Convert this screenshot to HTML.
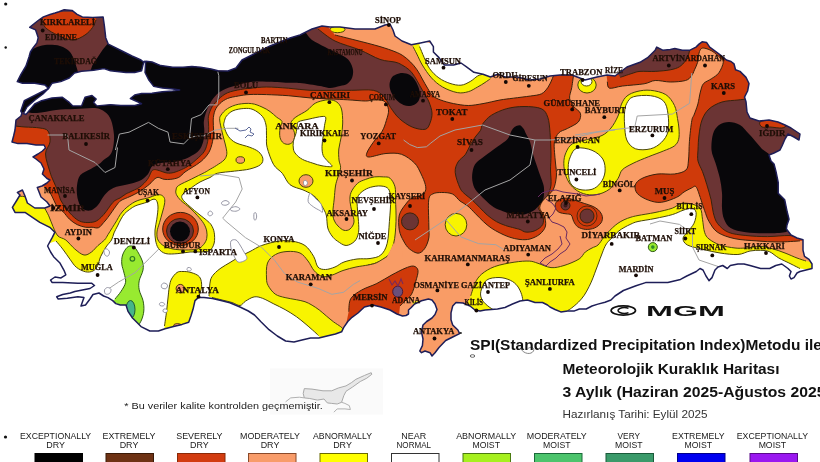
<!DOCTYPE html><html><head><meta charset="utf-8"><title>SPI Kuraklık Haritası</title>
<style>html,body{margin:0;padding:0;background:#fff;width:820px;height:462px;overflow:hidden}svg{display:block}.l{font-family:"Liberation Serif",serif;font-weight:bold;font-size:9px;fill:#1e0e06;stroke:#1e0e06;stroke-width:0.25px}.s{font-family:"Liberation Sans",Arial,sans-serif}</style></head><body>
<svg width="820" height="462" viewBox="0 0 820 462">
<defs><clipPath id="land"><path d="M29.7,27.3 L35,23 L39.5,19.5 L43.4,16.9 L50,14.5 L55,13 L59,11.7 L64.2,9.7 L72,10.4 L77.1,14.3 L82.3,16.9 L92.7,17.5 L103.1,16.9 L104.4,26 L105.7,37.7 L108.3,44.2 L120,50 L132,56 L141,60 L143.5,62 L146,61.3 L152,62 L160.7,65.6 L172.8,67.3 L183,67.3 L191.9,66.5 L200.5,67.3 L211,69 L217.9,70.8 L228,71 L236,68 L242,60 L250,56 L260,51 L270,46 L280,42 L290,38 L300,35 L306,32 L312,29 L322,26 L330,27 L340,27 L355,29 L365,29 L375,29 L385,25 L390,24 L393,30 L395,36 L402,41 L411.3,44.7 L420.5,42.9 L429.7,41 L433.4,46.6 L433.4,52 L439,57.6 L444.4,65 L453.6,65 L461,63 L466.5,66.8 L473.9,72.3 L483,74.2 L490.4,77 L497.8,74.2 L505,77 L517,77 L530,80 L540,79 L550,76 L560,75 L572,75 L585,80 L597,77 L607,75 L615,76 L627,67 L640,62.3 L647.6,57.7 L655.2,50.2 L656.7,47.1 L662.7,50.2 L670.3,49.4 L674.8,48.6 L682.4,50.2 L690,50.2 L696,47.1 L699,44.1 L702.1,41.8 L706.7,42.6 L709.7,47.1 L715.8,51.7 L721.8,56.2 L726.4,60 L731,61.5 L734,63.8 L735.5,69.8 L740,71.4 L746,77.4 L749,83.5 L747.6,91 L744.5,97.1 L746,101.7 L747,112 L750,118 L759,121 L769,120 L778,122 L785,125 L791,128 L800,134 L799,140 L794,137 L788,134 L785,139 L782,146 L780,150 L774,153 L769,155 L771,161 L774,164 L776,171.6 L778.2,182.5 L778.2,193.3 L784.7,199.8 L786.9,210.6 L789,219.3 L787,225 L786.4,229 L791,235 L797,238 L803,239.7 L803,250.3 L804.5,256.4 L809,259.4 L812,264 L812,268.5 L806,270 L800,271.5 L797,273 L794,277.6 L791,279 L789.4,276 L791,271.5 L788,268.5 L781.8,264 L775.8,265.5 L769.7,268.5 L760.6,268.5 L750,265.5 L744,264 L737.9,264 L730.3,265.5 L727.3,268.5 L722.7,265.5 L718,267 L715,270 L712,277.6 L709,280.6 L706,276 L703,270 L700,268.5 L696.3,271.5 L686.8,276 L680.5,279.4 L667.8,282.6 L655,282.6 L645.6,282.6 L636,285.7 L623.4,290.5 L615,296 L611,300 L605,302.2 L597.9,304.1 L592,306 L586.2,309 L579.4,309 L574.5,310.9 L567.7,310.9 L560.8,311.9 L555,309.5 L550,307 L547.5,305 L542.5,302.5 L535,302.5 L527.5,300 L520,301 L512.5,304 L505,307.5 L497.5,309 L485,310 L480,311 L475,310 L470,306 L463,303 L456,302.5 L452.7,306 L451,312.9 L451,319.8 L452.7,325 L457.9,330 L459.6,333.6 L452.7,337 L445.7,340.5 L439,347.5 L435,352.7 L432,356 L430,352.7 L425,351 L421.5,352.7 L419.8,351 L422.4,345.7 L423,339 L421.5,332 L423,325 L426.7,321.5 L432,318 L435,314.6 L437,309.4 L435,304 L432,300 L428.4,299 L421.5,300.8 L414.6,304 L411,307.7 L408.5,310 L408.5,314 L406,315.5 L402.5,316 L397,314 L390,310 L381,307 L372.7,305 L364.4,307 L358,313 L352,317.3 L347.8,321.5 L343.6,327.7 L341.6,331.8 L335.4,334 L327,336 L318.8,338 L310.5,338 L302,340 L294,342 L285.6,341 L277.3,336 L269,329.7 L260.7,321.5 L254.5,315 L248.3,311 L240,307 L229.9,302.8 L221,300.6 L212.5,298.4 L204,297.4 L198.5,297.4 L195,300.6 L193,309.3 L191,315.8 L188.7,322.3 L182,324.4 L173.6,326.6 L165,328.7 L158.4,331 L149.8,331 L141,326.6 L136.8,322.3 L132.5,318 L128,311.4 L126,305 L120.3,305 L115.8,303.6 L112.7,300.6 L108,297.6 L103.6,296 L99,293 L93,294.5 L90,299 L85.5,305 L81,306 L82.4,302 L84,297.6 L77.9,296.8 L67.3,298.3 L58.2,299 L56.7,296.8 L62.7,294.5 L70.3,293 L74.8,291.5 L82.4,290 L90,288.5 L94.5,285.5 L91.5,283.2 L77.9,283.2 L62.7,282.4 L52,282.4 L50.6,280 L55,277 L61,277.9 L65.8,274.8 L64,270.3 L59.7,262.7 L53.6,256.7 L50.6,252 L47.6,246 L52.3,237.3 L54.8,232.3 L49.8,227.3 L39.8,222.3 L32.4,217.4 L25,212.4 L15,212.4 L12.4,207.4 L17,200 L20,195 L17.4,192.5 L22.4,190 L25,196 L27.4,203 L34.8,208 L44.8,208 L50,206 L47,202 L41,197 L37.3,187.5 L42,186 L47,183 L50,180 L47,178.5 L42.4,174 L44,169 L41,163 L36,159 L33,157 L38,154 L42.4,151 L45.5,148 L44,145 L36,145 L27,143.6 L18,143.6 L12,142 L13.6,136 L15,130 L16,120 L21,116 L22,113 L20.8,111 L22.5,105.9 L24.3,100.7 L31.2,97.2 L41.6,92 L48.5,88.5 L45,85 L34.7,83.3 L22.5,83.3 L17.3,81.6 L20.8,74.7 L26,66 L29,57 L30.4,52 L33,48 L36.9,42.9 L38.2,37.7 L36.9,33.8 L35.6,29.9 Z"/></clipPath></defs>
<rect width="820" height="462" fill="#fff"/>
<g clip-path="url(#land)">
<rect x="0" y="0" width="820" height="360" fill="#f99c66"/>
<path d="M0,360 L0,198 L12,197 L18,196.5 C19,196.5 22.3,196.1 24,196.5 C25.7,196.9 27.3,198.6 28,199 L30,205 L36,206 L44,207 C44.8,208.5 47.2,212.5 48.7,215.8 C50.2,219.1 51.5,223.2 53,226.6 C54.5,230 55.9,233.8 58,236 C60.1,238.2 63,237.8 65.8,240 C68.6,242.2 71.8,246.5 74.8,249 C77.8,251.5 81.2,254.5 84,255 C86.8,255.5 89.2,253.6 91.5,252 C93.8,250.4 95.8,247.5 98,245.5 C100.2,243.5 102.8,241.8 104.5,240 C106.2,238.2 106.7,236.7 108,234.6 C109.3,232.5 110.9,230 112.3,227.7 C113.7,225.4 115.3,223 116.6,220.8 C117.9,218.6 118.8,216.6 120.1,214.7 C121.4,212.8 122.8,211.1 124.4,209.5 C126,207.9 127.8,206.5 129.6,205.2 C131.4,203.9 133.1,202.6 135,201.7 C136.9,200.8 138.8,200.1 141,199.5 C143.2,198.9 145.3,198.8 147.9,198 C150.5,197.2 154.2,195.5 156.5,195 C158.8,194.5 160.2,194.6 161.5,195.2 C162.8,195.8 164,197 164.5,198.5 C165,200 164.8,201.8 164.5,204 C164.2,206.2 163.3,208.9 162.5,212 C161.7,215.1 160.4,219.4 159.5,222.7 C158.6,226 157.2,229.1 157,232 C156.8,234.9 156.8,237.7 158,240 C159.2,242.3 161.5,244.5 164,246 C166.5,247.5 169.4,248.3 173,249 C176.6,249.7 181.4,250 185.5,250 C189.6,250 194.6,249.9 197.6,249 C200.6,248.1 202.1,246.2 203.6,244.5 C205.1,242.8 206.2,240.8 206.7,238.5 C207.2,236.2 207.2,233.5 206.7,231 C206.2,228.5 205.1,225.8 203.6,223.3 C202.1,220.8 199.9,218.4 197.6,215.8 C195.3,213.2 192.8,210.5 190,208 C187.2,205.5 183.3,202.8 181,200.6 C178.7,198.3 177.2,196.3 176.4,194.5 C175.6,192.7 175.6,191.5 176,190 C176.4,188.5 176,187.3 178.6,185.5 C181.2,183.7 187.3,181.2 191.6,179 C195.9,176.8 201.7,174 204.6,172.5 C207.5,171 206.8,171.2 208.8,170 C210.8,168.8 213.9,167.2 216.4,165.5 C218.9,163.8 222.3,161.9 224,160.1 C225.7,158.3 226.3,156.7 226.7,154.7 C227.1,152.7 226.6,150.7 226.2,148.2 C225.8,145.7 224.7,142.4 224,139.5 C223.3,136.6 222.5,134.1 221.8,130.8 C221.1,127.6 219.8,122.6 219.7,120 C219.6,117.4 219.7,117 221,115.1 C222.3,113.2 224.6,110.4 227.5,108.6 C230.4,106.8 234.3,105.1 238.3,104.3 C242.3,103.5 247.6,103.1 251.5,103.6 C255.4,104 258.9,105.7 262,107 C265.1,108.3 267.6,109.8 270,111.5 C272.4,113.2 274.6,115.4 276.6,117.1 C278.6,118.8 281.4,119.6 282,121.5 C282.6,123.4 280.3,125.8 280,128.4 C279.7,131.1 279.4,135 280,137.4 C280.6,139.8 281.9,141.9 283.4,143 C284.9,144.1 287.3,144.6 289,144.2 C290.7,143.8 292.6,142.5 293.5,140.8 C294.4,139.1 294.9,136.2 294.7,134 C294.5,131.8 293,129.2 292.4,127.3 C291.8,125.4 290.4,124.2 291,122.5 C291.6,120.8 293.1,119.1 295.8,117.1 C298.5,115.1 304,112.6 307,110.4 C310,108.2 311.7,105.5 314,104 C316.3,102.5 318.2,101.8 320.8,101.1 C323.4,100.4 327.1,99.6 329.8,99.8 C332.5,100 334.9,100.6 336.9,102.1 C338.8,103.6 340.5,105.5 341.5,109 C342.5,112.5 342.7,118.5 342.7,123 C342.7,127.5 342,131.7 341.4,136 C340.8,140.3 339.2,145 338.8,149 C338.4,153 338.7,156.9 339,160 C339.3,163.1 340.8,165 340.6,167.8 C340.4,170.6 338.9,173.9 338,176.9 C337.1,179.9 336.1,182.3 335.5,186 C334.9,189.7 334.6,194.7 334.2,199 C333.8,203.3 332.9,208.5 332.9,212 C332.9,215.5 333.1,217.7 334,220 C334.9,222.3 336.3,224.3 338,226 C339.7,227.7 342,229.8 344,230.3 C346,230.8 348.3,230.4 350,229 C351.7,227.6 353.7,224.8 354,222 C354.3,219.2 352.7,215.4 352,212 C351.3,208.6 350.2,204.8 350,201.6 C349.8,198.3 349.8,195.5 351,192.5 C352.2,189.5 355.1,185.6 357.5,183.4 C359.9,181.2 362.5,180.6 365.3,179.5 C368.1,178.4 371.4,177.3 374.4,176.9 C377.4,176.5 380.9,176.7 383.5,176.9 C386.1,177.1 388.1,176.5 390,178.2 C391.9,179.8 394.1,183.2 395,186.8 C395.9,190.4 395.3,194 395.5,199.8 C395.7,205.6 396.3,214.3 396,221.6 C395.7,228.8 395.2,237.5 393.7,243.3 C392.2,249.1 390.1,253.1 387.2,256.3 C384.3,259.6 379.6,261.4 376.4,262.8 C373.2,264.2 369.4,264.6 368,265 L356,267 L348,290 L346,360 L0,360 Z" fill="#f8f400"/>
<path d="M18,196.5 C19,196.5 22.3,196.1 24,196.5 C25.7,196.9 27.3,198.6 28,199" fill="none" stroke="#4a4608" stroke-width="1.0"/>
<path d="M44,207 C44.8,208.5 47.2,212.5 48.7,215.8 C50.2,219.1 51.5,223.2 53,226.6 C54.5,230 55.9,233.8 58,236 C60.1,238.2 63,237.8 65.8,240 C68.6,242.2 71.8,246.5 74.8,249 C77.8,251.5 81.2,254.5 84,255 C86.8,255.5 89.2,253.6 91.5,252 C93.8,250.4 95.8,247.5 98,245.5 C100.2,243.5 102.8,241.8 104.5,240 C106.2,238.2 106.7,236.7 108,234.6 C109.3,232.5 110.9,230 112.3,227.7 C113.7,225.4 115.3,223 116.6,220.8 C117.9,218.6 118.8,216.6 120.1,214.7 C121.4,212.8 122.8,211.1 124.4,209.5 C126,207.9 127.8,206.5 129.6,205.2 C131.4,203.9 133.1,202.6 135,201.7 C136.9,200.8 138.8,200.1 141,199.5 C143.2,198.9 145.3,198.8 147.9,198 C150.5,197.2 154.2,195.5 156.5,195 C158.8,194.5 160.2,194.6 161.5,195.2 C162.8,195.8 164,197 164.5,198.5 C165,200 164.8,201.8 164.5,204 C164.2,206.2 163.3,208.9 162.5,212 C161.7,215.1 160.4,219.4 159.5,222.7 C158.6,226 157.2,229.1 157,232 C156.8,234.9 156.8,237.7 158,240 C159.2,242.3 161.5,244.5 164,246 C166.5,247.5 169.4,248.3 173,249 C176.6,249.7 181.4,250 185.5,250 C189.6,250 194.6,249.9 197.6,249 C200.6,248.1 202.1,246.2 203.6,244.5 C205.1,242.8 206.2,240.8 206.7,238.5 C207.2,236.2 207.2,233.5 206.7,231 C206.2,228.5 205.1,225.8 203.6,223.3 C202.1,220.8 199.9,218.4 197.6,215.8 C195.3,213.2 192.8,210.5 190,208 C187.2,205.5 183.3,202.8 181,200.6 C178.7,198.3 177.2,196.3 176.4,194.5 C175.6,192.7 175.6,191.5 176,190 C176.4,188.5 176,187.3 178.6,185.5 C181.2,183.7 187.3,181.2 191.6,179 C195.9,176.8 201.7,174 204.6,172.5 C207.5,171 206.8,171.2 208.8,170 C210.8,168.8 213.9,167.2 216.4,165.5 C218.9,163.8 222.3,161.9 224,160.1 C225.7,158.3 226.3,156.7 226.7,154.7 C227.1,152.7 226.6,150.7 226.2,148.2 C225.8,145.7 224.7,142.4 224,139.5 C223.3,136.6 222.5,134.1 221.8,130.8 C221.1,127.6 219.8,122.6 219.7,120 C219.6,117.4 219.7,117 221,115.1 C222.3,113.2 224.6,110.4 227.5,108.6 C230.4,106.8 234.3,105.1 238.3,104.3 C242.3,103.5 247.6,103.1 251.5,103.6 C255.4,104 258.9,105.7 262,107 C265.1,108.3 267.6,109.8 270,111.5 C272.4,113.2 274.6,115.4 276.6,117.1 C278.6,118.8 281.4,119.6 282,121.5 C282.6,123.4 280.3,125.8 280,128.4 C279.7,131.1 279.4,135 280,137.4 C280.6,139.8 281.9,141.9 283.4,143 C284.9,144.1 287.3,144.6 289,144.2 C290.7,143.8 292.6,142.5 293.5,140.8 C294.4,139.1 294.9,136.2 294.7,134 C294.5,131.8 293,129.2 292.4,127.3 C291.8,125.4 290.4,124.2 291,122.5 C291.6,120.8 293.1,119.1 295.8,117.1 C298.5,115.1 304,112.6 307,110.4 C310,108.2 311.7,105.5 314,104 C316.3,102.5 318.2,101.8 320.8,101.1 C323.4,100.4 327.1,99.6 329.8,99.8 C332.5,100 334.9,100.6 336.9,102.1 C338.8,103.6 340.5,105.5 341.5,109 C342.5,112.5 342.7,118.5 342.7,123 C342.7,127.5 342,131.7 341.4,136 C340.8,140.3 339.2,145 338.8,149 C338.4,153 338.7,156.9 339,160 C339.3,163.1 340.8,165 340.6,167.8 C340.4,170.6 338.9,173.9 338,176.9 C337.1,179.9 336.1,182.3 335.5,186 C334.9,189.7 334.6,194.7 334.2,199 C333.8,203.3 332.9,208.5 332.9,212 C332.9,215.5 333.1,217.7 334,220 C334.9,222.3 336.3,224.3 338,226 C339.7,227.7 342,229.8 344,230.3 C346,230.8 348.3,230.4 350,229 C351.7,227.6 353.7,224.8 354,222 C354.3,219.2 352.7,215.4 352,212 C351.3,208.6 350.2,204.8 350,201.6 C349.8,198.3 349.8,195.5 351,192.5 C352.2,189.5 355.1,185.6 357.5,183.4 C359.9,181.2 362.5,180.6 365.3,179.5 C368.1,178.4 371.4,177.3 374.4,176.9 C377.4,176.5 380.9,176.7 383.5,176.9 C386.1,177.1 388.1,176.5 390,178.2 C391.9,179.8 394.1,183.2 395,186.8 C395.9,190.4 395.3,194 395.5,199.8 C395.7,205.6 396.3,214.3 396,221.6 C395.7,228.8 395.2,237.5 393.7,243.3 C392.2,249.1 390.1,253.1 387.2,256.3 C384.3,259.6 379.6,261.4 376.4,262.8 C373.2,264.2 369.4,264.6 368,265" fill="none" stroke="#4a4608" stroke-width="1.0"/>
<path d="M25,255 L50,243 L56,241 C57.1,242.3 60.3,245.9 62.7,249 C65.1,252.1 68,256.6 70.3,259.7 C72.6,262.8 73.9,265.3 76.4,267.3 C78.9,269.3 82.7,271.2 85.5,271.8 C88.3,272.4 91,272 93,271 C95,270 96.3,268.2 97.6,265.8 C98.9,263.4 99.2,259.8 100.6,256.7 C102,253.6 104.2,249.8 106,247 C107.8,244.2 110.2,242.3 111.5,240 C112.8,237.7 113,235.2 114,232.9 C115,230.6 116.3,228.3 117.5,226 C118.7,223.7 119.8,221 121,219 C122.2,217 123,215.5 124.4,213.9 C125.8,212.3 127.8,210.8 129.6,209.5 C131.4,208.2 133.1,206.9 135,206 C136.9,205.1 138.8,204.7 141,204 C143.2,203.3 145.9,202.7 147.9,201.9 C149.9,201.1 151.6,199.5 153,199.3 C154.4,199.1 155.7,199.2 156.5,200.5 C157.3,201.8 157.9,203.9 158,207 C158.1,210.1 157.3,215.4 156.8,219.2 C156.3,223 155.2,226.5 155,230 C154.8,233.5 154.9,236.9 155.5,240 C156.1,243.1 156.8,246.2 158.5,248.5 C160.2,250.8 162.6,252.8 165.8,253.6 C169,254.4 173.9,253.9 177.9,253.6 C181.9,253.3 186.2,252.3 190,252 C193.8,251.7 197.3,252.2 200.6,252 C203.9,251.8 207.4,252.1 209.7,250.6 C212,249.1 213.4,246 214.2,243 C214.9,240 214.7,235.4 214.2,232.4 C213.7,229.4 212.4,226.8 211.2,224.8 C209.9,222.8 208.7,222.1 206.7,220.3 C204.7,218.5 201.8,216.5 199,214.2 C196.2,211.9 192.8,209.2 190,206.7 C187.2,204.2 183.6,201.1 182.4,199 C181.2,196.9 181.5,195.9 183,194 C184.5,192.1 188.8,189.6 191.6,187.6 C194.4,185.6 196.9,183.7 200,182 C203.1,180.3 207.1,178.9 210,177.5 C212.9,176.1 213.2,174.4 217.3,173.3 C221.4,172.2 229.2,171.8 234.6,171.1 C240,170.4 245.5,170.1 249.8,169 C254.1,167.9 258.4,166.4 260.6,164.6 C262.8,162.8 263.2,160.3 262.8,158.2 C262.4,156 260.7,153.5 258.5,151.7 C256.3,149.9 253.6,148.8 249.8,147.3 C246,145.8 239.5,144.6 235.9,142.8 C232.3,141 230.3,139 228.3,136.3 C226.3,133.6 224.7,128.9 224,126.5 C223.3,124 223.9,123.3 224.3,121.6 C224.7,119.9 225,118 226.4,116.2 C227.8,114.4 230,112.1 232.9,110.8 C235.8,109.5 240.5,108.7 243.8,108.5 C247.2,108.3 249.9,108.2 253,109.5 C256.1,110.8 260.1,113.7 262.3,116.3 C264.5,118.9 265.3,121.8 266,125 C266.7,128.2 266.3,132.1 266.5,135.8 C266.7,139.5 265.9,142.5 267.1,147.3 C268.3,152.1 271.1,160.3 273.6,164.6 C276.1,168.9 279.6,170 282.3,173.3 C285,176.7 286.6,181.9 290,184.7 C293.4,187.5 299.5,188.4 303,189.9 C306.5,191.4 308.6,192.5 310.8,193.8 C313,195.1 314.5,196.2 316,197.7 C317.5,199.2 318.6,200.9 319.9,202.9 C321.2,204.9 322.7,207.2 323.8,209.4 C324.9,211.6 325.7,212.7 326.4,215.8 C327.1,218.9 326.9,224.6 327.8,228 C328.7,231.4 330.4,233.8 332,236 C333.6,238.2 335,239.5 337.4,241.1 C339.8,242.7 343.2,245.5 346.1,245.5 C349,245.5 352.7,243.3 354.8,241.1 C356.9,238.9 357.9,235.8 358.5,232.5 C359.1,229.2 358.7,225.3 358.5,221.6 C358.3,217.8 357.7,214 357.5,210 C357.3,206 356.6,200.8 357.5,197.7 C358.4,194.6 360.5,192.9 362.7,191.2 C364.9,189.5 367.4,188.2 370.5,187.3 C373.6,186.4 378,185.7 381,186 C384,186.3 386.9,186.7 388.5,189 C390.1,191.3 390.5,194.4 390.6,199.8 C390.8,205.2 390,214.3 389.4,221.6 C388.8,228.8 388.6,237.7 387.2,243.3 C385.8,248.9 383.7,252.5 380.8,255 C377.9,257.5 374,257.8 370,258.5 C366,259.2 361.3,258.4 357,259 C352.7,259.6 347.7,260.7 344,262 C340.3,263.3 338.1,265.8 335,267 C331.9,268.2 328.3,269.5 325.5,269.5 C322.7,269.5 320,269.3 318,267.1 C316,264.9 315.8,259.9 313.6,256.3 C311.4,252.7 308.6,248 305,245.5 C301.4,243 296.3,241.8 292,241.1 C287.7,240.4 284.1,240.4 279,241.1 C273.9,241.8 266.5,243.8 261.7,245.5 C256.9,247.2 253.6,249.7 250,251.5 C246.4,253.3 243.3,254.7 240,256.5 C236.7,258.3 233.2,260.6 230,262.5 C226.8,264.4 223.7,266.1 221,268 C218.3,269.9 215.8,272 214,274 C212.2,276 211.2,277.7 210.5,280 C209.8,282.3 209.8,285.3 209.5,288 C209.2,290.7 209.1,294.7 209,296 L208,310 L204,350 L25,350 L25,255 Z" fill="#ffffff"/>
<path d="M56,241 C57.1,242.3 60.3,245.9 62.7,249 C65.1,252.1 68,256.6 70.3,259.7 C72.6,262.8 73.9,265.3 76.4,267.3 C78.9,269.3 82.7,271.2 85.5,271.8 C88.3,272.4 91,272 93,271 C95,270 96.3,268.2 97.6,265.8 C98.9,263.4 99.2,259.8 100.6,256.7 C102,253.6 104.2,249.8 106,247 C107.8,244.2 110.2,242.3 111.5,240 C112.8,237.7 113,235.2 114,232.9 C115,230.6 116.3,228.3 117.5,226 C118.7,223.7 119.8,221 121,219 C122.2,217 123,215.5 124.4,213.9 C125.8,212.3 127.8,210.8 129.6,209.5 C131.4,208.2 133.1,206.9 135,206 C136.9,205.1 138.8,204.7 141,204 C143.2,203.3 145.9,202.7 147.9,201.9 C149.9,201.1 151.6,199.5 153,199.3 C154.4,199.1 155.7,199.2 156.5,200.5 C157.3,201.8 157.9,203.9 158,207 C158.1,210.1 157.3,215.4 156.8,219.2 C156.3,223 155.2,226.5 155,230 C154.8,233.5 154.9,236.9 155.5,240 C156.1,243.1 156.8,246.2 158.5,248.5 C160.2,250.8 162.6,252.8 165.8,253.6 C169,254.4 173.9,253.9 177.9,253.6 C181.9,253.3 186.2,252.3 190,252 C193.8,251.7 197.3,252.2 200.6,252 C203.9,251.8 207.4,252.1 209.7,250.6 C212,249.1 213.4,246 214.2,243 C214.9,240 214.7,235.4 214.2,232.4 C213.7,229.4 212.4,226.8 211.2,224.8 C209.9,222.8 208.7,222.1 206.7,220.3 C204.7,218.5 201.8,216.5 199,214.2 C196.2,211.9 192.8,209.2 190,206.7 C187.2,204.2 183.6,201.1 182.4,199 C181.2,196.9 181.5,195.9 183,194 C184.5,192.1 188.8,189.6 191.6,187.6 C194.4,185.6 196.9,183.7 200,182 C203.1,180.3 207.1,178.9 210,177.5 C212.9,176.1 213.2,174.4 217.3,173.3 C221.4,172.2 229.2,171.8 234.6,171.1 C240,170.4 245.5,170.1 249.8,169 C254.1,167.9 258.4,166.4 260.6,164.6 C262.8,162.8 263.2,160.3 262.8,158.2 C262.4,156 260.7,153.5 258.5,151.7 C256.3,149.9 253.6,148.8 249.8,147.3 C246,145.8 239.5,144.6 235.9,142.8 C232.3,141 230.3,139 228.3,136.3 C226.3,133.6 224.7,128.9 224,126.5 C223.3,124 223.9,123.3 224.3,121.6 C224.7,119.9 225,118 226.4,116.2 C227.8,114.4 230,112.1 232.9,110.8 C235.8,109.5 240.5,108.7 243.8,108.5 C247.2,108.3 249.9,108.2 253,109.5 C256.1,110.8 260.1,113.7 262.3,116.3 C264.5,118.9 265.3,121.8 266,125 C266.7,128.2 266.3,132.1 266.5,135.8 C266.7,139.5 265.9,142.5 267.1,147.3 C268.3,152.1 271.1,160.3 273.6,164.6 C276.1,168.9 279.6,170 282.3,173.3 C285,176.7 286.6,181.9 290,184.7 C293.4,187.5 299.5,188.4 303,189.9 C306.5,191.4 308.6,192.5 310.8,193.8 C313,195.1 314.5,196.2 316,197.7 C317.5,199.2 318.6,200.9 319.9,202.9 C321.2,204.9 322.7,207.2 323.8,209.4 C324.9,211.6 325.7,212.7 326.4,215.8 C327.1,218.9 326.9,224.6 327.8,228 C328.7,231.4 330.4,233.8 332,236 C333.6,238.2 335,239.5 337.4,241.1 C339.8,242.7 343.2,245.5 346.1,245.5 C349,245.5 352.7,243.3 354.8,241.1 C356.9,238.9 357.9,235.8 358.5,232.5 C359.1,229.2 358.7,225.3 358.5,221.6 C358.3,217.8 357.7,214 357.5,210 C357.3,206 356.6,200.8 357.5,197.7 C358.4,194.6 360.5,192.9 362.7,191.2 C364.9,189.5 367.4,188.2 370.5,187.3 C373.6,186.4 378,185.7 381,186 C384,186.3 386.9,186.7 388.5,189 C390.1,191.3 390.5,194.4 390.6,199.8 C390.8,205.2 390,214.3 389.4,221.6 C388.8,228.8 388.6,237.7 387.2,243.3 C385.8,248.9 383.7,252.5 380.8,255 C377.9,257.5 374,257.8 370,258.5 C366,259.2 361.3,258.4 357,259 C352.7,259.6 347.7,260.7 344,262 C340.3,263.3 338.1,265.8 335,267 C331.9,268.2 328.3,269.5 325.5,269.5 C322.7,269.5 320,269.3 318,267.1 C316,264.9 315.8,259.9 313.6,256.3 C311.4,252.7 308.6,248 305,245.5 C301.4,243 296.3,241.8 292,241.1 C287.7,240.4 284.1,240.4 279,241.1 C273.9,241.8 266.5,243.8 261.7,245.5 C256.9,247.2 253.6,249.7 250,251.5 C246.4,253.3 243.3,254.7 240,256.5 C236.7,258.3 233.2,260.6 230,262.5 C226.8,264.4 223.7,266.1 221,268 C218.3,269.9 215.8,272 214,274 C212.2,276 211.2,277.7 210.5,280 C209.8,282.3 209.8,285.3 209.5,288 C209.2,290.7 209.1,294.7 209,296" fill="none" stroke="#4a4608" stroke-width="1.0"/>
<path d="M267.5,263 C269,259.1 272.2,256.4 275.5,254.5 C278.8,252.6 282.9,251.8 287,251.5 C291.1,251.2 296.5,251.4 300,253 C303.5,254.6 305.7,258.1 308,261 C310.3,263.9 311.7,267.9 314,270.5 C316.3,273.1 319.1,275.7 322,276.5 C324.9,277.3 328,276.3 331.5,275.3 C335,274.3 338.9,271.9 343,270.5 C347.1,269.1 351.8,267.9 356,267 C360.2,266.1 364.6,265.7 368,265 C371.4,264.3 373.2,264.2 376.4,262.8 C379.6,261.4 385.4,257.4 387.2,256.3 L393.7,243.3 L402,250 L404,280 L380,300 L355,318 L344.3,330.2 C343.7,329.6 342.5,328.1 340.7,326.7 C338.9,325.3 336,323.7 333.6,321.9 C331.2,320.1 328.8,318 326.4,316 C324,314 321.7,311.8 319.3,310 C316.9,308.2 314.5,306.6 312.1,305.2 C309.7,303.8 307.6,302.6 305,301.7 C302.4,300.8 299.6,300.4 296.3,299.7 C293,299 288.6,298.5 285.1,297.6 C281.6,296.7 278,296.1 275.2,294.1 C272.4,292.1 269.6,288.3 268.2,285.6 C266.8,282.9 266.6,281.8 266.5,278 C266.4,274.2 266,266.9 267.5,263 Z" fill="#f99c66"/>
<path d="M344.3,330.2 C343.7,329.6 342.5,328.1 340.7,326.7 C338.9,325.3 336,323.7 333.6,321.9 C331.2,320.1 328.8,318 326.4,316 C324,314 321.7,311.8 319.3,310 C316.9,308.2 314.5,306.6 312.1,305.2 C309.7,303.8 307.6,302.6 305,301.7 C302.4,300.8 299.6,300.4 296.3,299.7 C293,299 288.6,298.5 285.1,297.6 C281.6,296.7 278,296.1 275.2,294.1 C272.4,292.1 269.6,288.3 268.2,285.6 C266.8,282.9 266.6,281.8 266.5,278 C266.4,274.2 266,266.9 267.5,263 C269,259.1 272.2,256.4 275.5,254.5 C278.8,252.6 282.9,251.8 287,251.5 C291.1,251.2 296.5,251.4 300,253 C303.5,254.6 305.7,258.1 308,261 C310.3,263.9 311.7,267.9 314,270.5 C316.3,273.1 319.1,275.7 322,276.5 C324.9,277.3 328,276.3 331.5,275.3 C335,274.3 338.9,271.9 343,270.5 C347.1,269.1 351.8,267.9 356,267 C360.2,266.1 364.6,265.7 368,265 C371.4,264.3 373.2,264.2 376.4,262.8 C379.6,261.4 385.4,257.4 387.2,256.3" fill="none" stroke="#4a4608" stroke-width="1.0"/>
<path d="M206,296 L212,297.5 C213.7,297.9 218.7,299.2 222,300 C225.3,300.8 229,301.6 232,302.5 C235,303.4 237.7,305.7 240,305.5 C242.3,305.3 243.2,302.5 245.6,301.1 C247.9,299.7 251.3,297.4 254.1,296.9 C256.9,296.4 259.2,297.1 262.5,298.3 C265.8,299.5 270,302 273.8,303.9 C277.6,305.8 281.4,307.5 285.1,309.6 C288.9,311.7 293,314.3 296.3,316.6 C299.6,318.9 302.3,321.3 305,323.5 C307.7,325.7 310.2,328 312.5,330 C314.8,332 317.5,334.6 318.5,335.5 L322,340 L322,350 L206,350 L206,296 Z" fill="#ffffff"/>
<path d="M212,297.5 C213.7,297.9 218.7,299.2 222,300 C225.3,300.8 229,301.6 232,302.5 C235,303.4 237.7,305.7 240,305.5 C242.3,305.3 243.2,302.5 245.6,301.1 C247.9,299.7 251.3,297.4 254.1,296.9 C256.9,296.4 259.2,297.1 262.5,298.3 C265.8,299.5 270,302 273.8,303.9 C277.6,305.8 281.4,307.5 285.1,309.6 C288.9,311.7 293,314.3 296.3,316.6 C299.6,318.9 302.3,321.3 305,323.5 C307.7,325.7 310.2,328 312.5,330 C314.8,332 317.5,334.6 318.5,335.5" fill="none" stroke="#4a4608" stroke-width="1.0"/>
<path d="M297.3,125.6 C297.7,123.6 296.7,122.8 298.6,121.7 C300.6,120.6 305.1,120 309,119.1 C312.9,118.2 319.2,116.7 322,116.5 C324.8,116.3 325.4,116.3 325.8,117.8 C326.2,119.3 324.9,122.6 324.5,125.6 C324.1,128.6 323.6,132.5 323.2,136 C322.8,139.5 322,143.2 322,146.4 C322,149.7 322.1,152.9 323.2,155.5 C324.3,158.1 326.9,160.2 328.4,162 C329.9,163.8 333.1,165.9 332,166.5 C330.9,167.1 325.2,166.4 322,165.8 C318.8,165.2 316.1,164.3 312.9,163.2 C309.6,162.1 305.3,160.9 302.5,159.4 C299.7,157.9 297.5,155.9 296,154.2 C294.5,152.5 293.8,151.2 293.4,149 C293,146.8 293,143.8 293.4,141.2 C293.8,138.6 295.4,136 296,133.4 C296.6,130.8 296.9,127.5 297.3,125.6 Z" fill="#ffffff"/>
<path d="M297.3,125.6 C297.7,123.6 296.7,122.8 298.6,121.7 C300.6,120.6 305.1,120 309,119.1 C312.9,118.2 319.2,116.7 322,116.5 C324.8,116.3 325.4,116.3 325.8,117.8 C326.2,119.3 324.9,122.6 324.5,125.6 C324.1,128.6 323.6,132.5 323.2,136 C322.8,139.5 322,143.2 322,146.4 C322,149.7 322.1,152.9 323.2,155.5 C324.3,158.1 326.9,160.2 328.4,162 C329.9,163.8 333.1,165.9 332,166.5 C330.9,167.1 325.2,166.4 322,165.8 C318.8,165.2 316.1,164.3 312.9,163.2 C309.6,162.1 305.3,160.9 302.5,159.4 C299.7,157.9 297.5,155.9 296,154.2 C294.5,152.5 293.8,151.2 293.4,149 C293,146.8 293,143.8 293.4,141.2 C293.8,138.6 295.4,136 296,133.4 C296.6,130.8 296.9,127.5 297.3,125.6 Z" fill="none" stroke="#4a4608" stroke-width="1.0"/>
<ellipse cx="306" cy="181" rx="7" ry="6.3" fill="#f99c66" stroke="#4a4608" stroke-width="1.0"/>
<ellipse cx="240.3" cy="160" rx="4.3" ry="3.3" fill="#f99c66" stroke="#4a4608" stroke-width="1.0"/>
<path d="M177,272.5 C178.9,271.2 180.7,271.5 183,271.5 C185.3,271.5 188.2,271.6 191,272.5 C193.8,273.4 197.8,274.6 199.6,277 C201.4,279.4 201.8,283.5 201.6,286.8 C201.4,290.1 199.2,295.3 198.7,297 L195,305 L191,318 L188,340 L164,340 L164.5,326 C164.8,323.7 165.9,316.7 166.5,312 C167.1,307.3 167.5,302.2 168,298 C168.5,293.8 168.7,290.2 169.3,287 C169.9,283.8 170.2,281.4 171.5,279 C172.8,276.6 175.1,273.8 177,272.5 Z" fill="#f8f400"/>
<path d="M164.5,326 C164.8,323.7 165.9,316.7 166.5,312 C167.1,307.3 167.5,302.2 168,298 C168.5,293.8 168.7,290.2 169.3,287 C169.9,283.8 170.2,281.4 171.5,279 C172.8,276.6 175.1,273.8 177,272.5 C178.9,271.2 180.7,271.5 183,271.5 C185.3,271.5 188.2,271.6 191,272.5 C193.8,273.4 197.8,274.6 199.6,277 C201.4,279.4 201.8,283.5 201.6,286.8 C201.4,290.1 199.2,295.3 198.7,297" fill="none" stroke="#4a4608" stroke-width="1.0"/>
<ellipse cx="180.3" cy="288.6" rx="4.2" ry="4.2" fill="#f99c66" stroke="#3a220c" stroke-width="0.9"/>
<ellipse cx="177.5" cy="326" rx="4" ry="2.5" fill="#f99c66" stroke="#3a220c" stroke-width="0.8"/>
<path d="M131.7,246 C133.2,246.2 134.2,246.5 136,249 C137.8,251.5 141.1,257.5 142.3,261 C143.5,264.5 143.5,266.7 143,270 C142.5,273.3 139.8,277.5 139.2,280.8 C138.6,284.1 138.6,286.5 139.2,289.8 C139.8,293.1 142.2,297 143,300.5 C143.8,304 144.1,307.8 143.8,311 C143.6,314.2 142.5,317.5 141.5,320 C140.5,322.5 138.6,325 138,326 L134,340 L108,330 L112,302 L115,299 C116,297.7 119.2,294.2 121,291.4 C122.8,288.6 125.1,285.3 125.6,282.3 C126.1,279.3 124.7,276.2 124.1,273.2 C123.5,270.1 122,267 121.8,264 C121.5,261 121.7,257.8 122.6,255 C123.5,252.2 125.5,249 127,247.5 C128.5,246 130.2,245.8 131.7,246 Z" fill="#98ea30"/>
<path d="M115,299 C116,297.7 119.2,294.2 121,291.4 C122.8,288.6 125.1,285.3 125.6,282.3 C126.1,279.3 124.7,276.2 124.1,273.2 C123.5,270.1 122,267 121.8,264 C121.5,261 121.7,257.8 122.6,255 C123.5,252.2 125.5,249 127,247.5 C128.5,246 130.2,245.8 131.7,246 C133.2,246.2 134.2,246.5 136,249 C137.8,251.5 141.1,257.5 142.3,261 C143.5,264.5 143.5,266.7 143,270 C142.5,273.3 139.8,277.5 139.2,280.8 C138.6,284.1 138.6,286.5 139.2,289.8 C139.8,293.1 142.2,297 143,300.5 C143.8,304 144.1,307.8 143.8,311 C143.6,314.2 142.5,317.5 141.5,320 C140.5,322.5 138.6,325 138,326" fill="none" stroke="#2f5a12" stroke-width="1.0"/>
<ellipse cx="130.5" cy="309.5" rx="4.5" ry="9" fill="#46b58a" stroke="#1f5a32" stroke-width="1.0"/>
<ellipse cx="132.4" cy="258.8" rx="2.3" ry="2.3" fill="none" stroke="#2f7a22" stroke-width="1.2"/>
<path d="M413,40 L413,46.6 C413.6,47.8 415.2,50.9 416.8,54 C418.4,57.1 419.9,61 422.3,65 C424.8,69 428.1,74.2 431.5,77.9 C434.9,81.6 438.3,84.5 442.6,87 C446.9,89.5 453,91.8 457.3,92.6 C461.6,93.4 464.9,92.6 468.3,91.7 C471.7,90.8 474.8,88.5 477.6,87 C480.4,85.5 482.9,83.9 485,82.5 C487.1,81.1 489.5,79.4 490.4,78.8 L494,70 L413,40 Z" fill="#f8f400"/>
<path d="M413,46.6 C413.6,47.8 415.2,50.9 416.8,54 C418.4,57.1 419.9,61 422.3,65 C424.8,69 428.1,74.2 431.5,77.9 C434.9,81.6 438.3,84.5 442.6,87 C446.9,89.5 453,91.8 457.3,92.6 C461.6,93.4 464.9,92.6 468.3,91.7 C471.7,90.8 474.8,88.5 477.6,87 C480.4,85.5 482.9,83.9 485,82.5 C487.1,81.1 489.5,79.4 490.4,78.8" fill="none" stroke="#4a4608" stroke-width="1.0"/>
<path d="M419.6,40 L419.6,46.6 C420.4,48.4 422.5,53.9 424.2,57.6 C425.9,61.3 427.2,65.3 429.7,68.7 C432.1,72.1 435.5,75.5 438.9,77.9 C442.3,80.4 446.3,82.2 450,83.4 C453.7,84.6 457.6,85.5 461,85.2 C464.4,84.9 467.4,83 470.2,81.5 C473,80 475.5,77.2 477.6,76 C479.7,74.8 482.1,74.5 483,74.2 L485,60 L419.6,40 Z" fill="#ffffff"/>
<path d="M419.6,46.6 C420.4,48.4 422.5,53.9 424.2,57.6 C425.9,61.3 427.2,65.3 429.7,68.7 C432.1,72.1 435.5,75.5 438.9,77.9 C442.3,80.4 446.3,82.2 450,83.4 C453.7,84.6 457.6,85.5 461,85.2 C464.4,84.9 467.4,83 470.2,81.5 C473,80 475.5,77.2 477.6,76 C479.7,74.8 482.1,74.5 483,74.2" fill="none" stroke="#4a4608" stroke-width="1.0"/>
<path d="M566,152.5 C567.5,149.2 568.9,146 572.5,143.8 C576.1,141.6 582.7,140.9 587.6,139.5 C592.5,138.1 598.1,137.4 602,135.5 C605.9,133.6 608.3,131.2 611,128 C613.7,124.8 616.2,120 618,116 C619.8,112 620,107.3 621.5,104 C623,100.7 624.4,98.1 627,96 C629.6,93.9 633.1,92.5 637,91.5 C640.9,90.5 645.8,89.8 650.6,90.3 C655.4,90.8 661.8,92.1 665.8,94.6 C669.8,97.1 672.5,101.5 674.5,105.5 C676.5,109.5 676.8,114.6 677.5,118.5 C678.2,122.4 678.8,125.5 679,129 C679.2,132.5 679.4,136.7 678.6,139.5 C677.8,142.3 676.8,144.1 674.3,146 C671.8,147.9 667.7,149.2 663.4,151 C659.1,152.8 653.3,154.8 648.3,156.8 C643.2,158.9 637.4,161.1 633.1,163.3 C628.8,165.5 624.8,167.3 622.3,169.8 C619.8,172.3 620.2,175.2 618,178.5 C615.8,181.8 612.9,186.6 609.3,189.3 C605.7,192 600.6,194 596.3,194.7 C592,195.4 587.3,194.9 583.3,193.6 C579.3,192.3 575.4,189.9 572.5,187 C569.6,184.1 567.5,180.2 566,176.3 C564.5,172.4 563.8,167.3 563.8,163.3 C563.8,159.3 564.5,155.8 566,152.5 Z" fill="#f8f400"/>
<path d="M566,152.5 C567.5,149.2 568.9,146 572.5,143.8 C576.1,141.6 582.7,140.9 587.6,139.5 C592.5,138.1 598.1,137.4 602,135.5 C605.9,133.6 608.3,131.2 611,128 C613.7,124.8 616.2,120 618,116 C619.8,112 620,107.3 621.5,104 C623,100.7 624.4,98.1 627,96 C629.6,93.9 633.1,92.5 637,91.5 C640.9,90.5 645.8,89.8 650.6,90.3 C655.4,90.8 661.8,92.1 665.8,94.6 C669.8,97.1 672.5,101.5 674.5,105.5 C676.5,109.5 676.8,114.6 677.5,118.5 C678.2,122.4 678.8,125.5 679,129 C679.2,132.5 679.4,136.7 678.6,139.5 C677.8,142.3 676.8,144.1 674.3,146 C671.8,147.9 667.7,149.2 663.4,151 C659.1,152.8 653.3,154.8 648.3,156.8 C643.2,158.9 637.4,161.1 633.1,163.3 C628.8,165.5 624.8,167.3 622.3,169.8 C619.8,172.3 620.2,175.2 618,178.5 C615.8,181.8 612.9,186.6 609.3,189.3 C605.7,192 600.6,194 596.3,194.7 C592,195.4 587.3,194.9 583.3,193.6 C579.3,192.3 575.4,189.9 572.5,187 C569.6,184.1 567.5,180.2 566,176.3 C564.5,172.4 563.8,167.3 563.8,163.3 C563.8,159.3 564.5,155.8 566,152.5 Z" fill="none" stroke="#4a4608" stroke-width="1.0"/>
<path d="M626.8,103.3 C628.2,100.8 629.3,98.1 633.3,96.8 C637.3,95.5 645.5,95 650.6,95.7 C655.7,96.4 660.7,98 663.6,101.1 C666.5,104.1 667.3,108.9 668,114 C668.7,119.1 669.1,126.8 668,131.5 C666.9,136.2 664.4,139.4 661.5,142.3 C658.6,145.2 654.9,147.7 650.6,148.8 C646.3,149.9 639.5,150.3 635.5,148.8 C631.5,147.3 628.6,144 626.8,140 C625,136 625,129.7 624.6,125 C624.2,120.3 624.2,115.6 624.6,112 C625,108.4 625.3,105.8 626.8,103.3 Z" fill="#ffffff"/>
<path d="M626.8,103.3 C628.2,100.8 629.3,98.1 633.3,96.8 C637.3,95.5 645.5,95 650.6,95.7 C655.7,96.4 660.7,98 663.6,101.1 C666.5,104.1 667.3,108.9 668,114 C668.7,119.1 669.1,126.8 668,131.5 C666.9,136.2 664.4,139.4 661.5,142.3 C658.6,145.2 654.9,147.7 650.6,148.8 C646.3,149.9 639.5,150.3 635.5,148.8 C631.5,147.3 628.6,144 626.8,140 C625,136 625,129.7 624.6,125 C624.2,120.3 624.2,115.6 624.6,112 C625,108.4 625.3,105.8 626.8,103.3 Z" fill="none" stroke="#4a4608" stroke-width="1.0"/>
<path d="M576.8,148.2 C580.4,147.1 587.7,148.5 592,150.3 C596.3,152.1 600.6,155.4 602.8,159 C605,162.6 605.4,168 605,172 C604.6,176 602.8,179.9 600.6,182.8 C598.4,185.7 595.6,188.2 592,189.3 C588.4,190.4 582.6,190.4 579,189.3 C575.4,188.2 572.1,186.4 570.3,182.8 C568.5,179.2 568.2,171.9 568.2,167.6 C568.2,163.3 568.9,160 570.3,156.8 C571.7,153.6 573.2,149.3 576.8,148.2 Z" fill="#ffffff"/>
<path d="M576.8,148.2 C580.4,147.1 587.7,148.5 592,150.3 C596.3,152.1 600.6,155.4 602.8,159 C605,162.6 605.4,168 605,172 C604.6,176 602.8,179.9 600.6,182.8 C598.4,185.7 595.6,188.2 592,189.3 C588.4,190.4 582.6,190.4 579,189.3 C575.4,188.2 572.1,186.4 570.3,182.8 C568.5,179.2 568.2,171.9 568.2,167.6 C568.2,163.3 568.9,160 570.3,156.8 C571.7,153.6 573.2,149.3 576.8,148.2 Z" fill="none" stroke="#4a4608" stroke-width="1.0"/>
<path d="M466,306 L470.8,295.8 C471.5,293.6 473.4,286.4 475.2,282.8 C477,279.2 478.5,276.8 481.7,274.1 C484.9,271.4 489.2,268.6 494.6,266.6 C500,264.6 508.3,263.1 514.1,262.2 C519.9,261.3 525.3,260.9 529.3,261.1 C533.3,261.3 534.4,262.2 538,263.3 C541.6,264.4 546.7,267.2 551,267.6 C555.3,268 559.3,266.9 564,265.5 C568.7,264.1 575.6,261.2 579.1,259 C582.6,256.8 583.1,253.8 585.3,252 C587.4,250.2 589.9,249.2 592,248 C594.1,246.8 596.1,246.7 598,245 C599.9,243.3 601.6,240 603.2,238 C604.8,236 605.9,234.5 607.5,232.8 C609.1,231.1 611,229.2 612.7,227.6 C614.4,226 616,224.6 617.9,223.3 C619.8,222 621.8,220.8 624,219.8 C626.2,218.8 628.6,217.9 630.9,217.2 C633.2,216.5 634,216.3 638,215.5 C642,214.7 649.3,213.7 655,212.5 C660.7,211.3 668,209.7 672.3,208.2 C676.6,206.7 677.8,204.2 681,203.5 C684.2,202.8 688.4,203.2 691.6,204 C694.8,204.8 698.5,205.8 700.3,208.4 C702.1,211 701.8,215.3 702.5,219.3 C703.2,223.3 703.5,229 704.6,232.3 C705.7,235.6 706.4,236.9 709,239 C711.6,241.1 715.7,243.5 720,245 C724.3,246.5 730.7,247.5 735,248 C739.3,248.5 741.5,248.2 745.8,248 C750.1,247.8 756.1,246.4 760.6,246.5 C765.1,246.6 768.6,247.7 772.7,248.8 C776.8,249.9 781,251.5 785,253 C789,254.5 793.5,256.7 797,258 C800.5,259.3 804.5,260.5 806,261 L815,263 L830,263 L830,330 L466,330 L466,306 Z" fill="#f8f400"/>
<path d="M470.8,295.8 C471.5,293.6 473.4,286.4 475.2,282.8 C477,279.2 478.5,276.8 481.7,274.1 C484.9,271.4 489.2,268.6 494.6,266.6 C500,264.6 508.3,263.1 514.1,262.2 C519.9,261.3 525.3,260.9 529.3,261.1 C533.3,261.3 534.4,262.2 538,263.3 C541.6,264.4 546.7,267.2 551,267.6 C555.3,268 559.3,266.9 564,265.5 C568.7,264.1 575.6,261.2 579.1,259 C582.6,256.8 583.1,253.8 585.3,252 C587.4,250.2 589.9,249.2 592,248 C594.1,246.8 596.1,246.7 598,245 C599.9,243.3 601.6,240 603.2,238 C604.8,236 605.9,234.5 607.5,232.8 C609.1,231.1 611,229.2 612.7,227.6 C614.4,226 616,224.6 617.9,223.3 C619.8,222 621.8,220.8 624,219.8 C626.2,218.8 628.6,217.9 630.9,217.2 C633.2,216.5 634,216.3 638,215.5 C642,214.7 649.3,213.7 655,212.5 C660.7,211.3 668,209.7 672.3,208.2 C676.6,206.7 677.8,204.2 681,203.5 C684.2,202.8 688.4,203.2 691.6,204 C694.8,204.8 698.5,205.8 700.3,208.4 C702.1,211 701.8,215.3 702.5,219.3 C703.2,223.3 703.5,229 704.6,232.3 C705.7,235.6 706.4,236.9 709,239 C711.6,241.1 715.7,243.5 720,245 C724.3,246.5 730.7,247.5 735,248 C739.3,248.5 741.5,248.2 745.8,248 C750.1,247.8 756.1,246.4 760.6,246.5 C765.1,246.6 768.6,247.7 772.7,248.8 C776.8,249.9 781,251.5 785,253 C789,254.5 793.5,256.7 797,258 C800.5,259.3 804.5,260.5 806,261" fill="none" stroke="#4a4608" stroke-width="1.0"/>
<path d="M566,314 L567.7,310.5 C568.4,310.1 569.8,309.4 571.6,308 C573.4,306.6 576.3,304.3 578.4,302.2 C580.5,300.1 582.4,297.9 584.2,295.3 C586,292.7 587.6,289.5 589.1,286.6 C590.6,283.7 591.9,280.6 593,277.8 C594.1,275 594.9,272.6 595.9,270 C596.9,267.4 598,264.5 598.9,262 C599.8,259.5 600.5,257.6 601.5,255 C602.5,252.4 603.8,248.9 604.9,246.6 C606,244.3 606.9,243.1 608.4,241.4 C609.9,239.7 611.9,237.9 613.6,236.2 C615.3,234.5 617.1,232.4 618.8,231 C620.5,229.6 622,228.8 624,227.6 C626,226.4 628.6,225.1 630.9,224.1 C633.2,223.1 634,222.4 638,221.5 C642,220.6 649.3,219.7 655,218.5 C660.7,217.3 667.6,216 672.3,214.6 C677,213.2 679.8,211.4 683,210.3 C686.2,209.2 689.6,207.8 691.8,208.2 C694,208.6 695.7,210 696.1,212.5 C696.5,215 695.5,220.1 694,223.3 C692.5,226.6 689.2,229.5 687.4,232 C685.6,234.5 683,236.3 683,238.5 C683,240.7 684.1,243.2 687.4,245 C690.7,246.8 697.2,248 702.6,249.3 C708,250.6 714.1,252.1 720,253 C725.9,253.9 732.9,254.8 737.9,254.5 C742.9,254.2 746.2,251.7 750,251 C753.8,250.3 757.3,250.2 760.6,250.3 C763.9,250.4 766.7,250.5 769.7,251.8 C772.7,253.1 775.2,256 778.8,258 C782.3,260 787.5,262.2 791,264 C794.5,265.8 798.5,267.8 800,268.5 L812,270 L830,300 L566,330 L566,314 Z" fill="#ffffff"/>
<path d="M567.7,310.5 C568.4,310.1 569.8,309.4 571.6,308 C573.4,306.6 576.3,304.3 578.4,302.2 C580.5,300.1 582.4,297.9 584.2,295.3 C586,292.7 587.6,289.5 589.1,286.6 C590.6,283.7 591.9,280.6 593,277.8 C594.1,275 594.9,272.6 595.9,270 C596.9,267.4 598,264.5 598.9,262 C599.8,259.5 600.5,257.6 601.5,255 C602.5,252.4 603.8,248.9 604.9,246.6 C606,244.3 606.9,243.1 608.4,241.4 C609.9,239.7 611.9,237.9 613.6,236.2 C615.3,234.5 617.1,232.4 618.8,231 C620.5,229.6 622,228.8 624,227.6 C626,226.4 628.6,225.1 630.9,224.1 C633.2,223.1 634,222.4 638,221.5 C642,220.6 649.3,219.7 655,218.5 C660.7,217.3 667.6,216 672.3,214.6 C677,213.2 679.8,211.4 683,210.3 C686.2,209.2 689.6,207.8 691.8,208.2 C694,208.6 695.7,210 696.1,212.5 C696.5,215 695.5,220.1 694,223.3 C692.5,226.6 689.2,229.5 687.4,232 C685.6,234.5 683,236.3 683,238.5 C683,240.7 684.1,243.2 687.4,245 C690.7,246.8 697.2,248 702.6,249.3 C708,250.6 714.1,252.1 720,253 C725.9,253.9 732.9,254.8 737.9,254.5 C742.9,254.2 746.2,251.7 750,251 C753.8,250.3 757.3,250.2 760.6,250.3 C763.9,250.4 766.7,250.5 769.7,251.8 C772.7,253.1 775.2,256 778.8,258 C782.3,260 787.5,262.2 791,264 C794.5,265.8 798.5,267.8 800,268.5" fill="none" stroke="#4a4608" stroke-width="1.0"/>
<path d="M480.8,291.6 C481.5,288.3 483.4,282.7 486.4,280.3 C489.4,277.9 495,277.5 499,277.5 C503,277.5 507.2,278.9 510.3,280.3 C513.4,281.7 515.5,283.6 517.4,286 C519.3,288.4 520.7,291.8 521.6,294.4 C522.5,297 522.8,300.2 523,301.4 L524,312 L497,314 L496.3,311.3 C495.1,310.6 491.6,308.9 489.2,307 C486.8,305.1 483.6,302.6 482.2,300 C480.8,297.4 480.1,294.9 480.8,291.6 Z" fill="#ffffff"/>
<path d="M496.3,311.3 C495.1,310.6 491.6,308.9 489.2,307 C486.8,305.1 483.6,302.6 482.2,300 C480.8,297.4 480.1,294.9 480.8,291.6 C481.5,288.3 483.4,282.7 486.4,280.3 C489.4,277.9 495,277.5 499,277.5 C503,277.5 507.2,278.9 510.3,280.3 C513.4,281.7 515.5,283.6 517.4,286 C519.3,288.4 520.7,291.8 521.6,294.4 C522.5,297 522.8,300.2 523,301.4" fill="none" stroke="#4a4608" stroke-width="1.0"/>
<ellipse cx="587" cy="85" rx="9.2" ry="8" fill="#f8f400" stroke="#4a4608" stroke-width="1.0"/>
<ellipse cx="586.5" cy="81.5" rx="5.5" ry="4.5" fill="#ffffff" stroke="#4a4608" stroke-width="1.0"/>
<ellipse cx="337.5" cy="29.5" rx="7.5" ry="3.2" fill="#f8f400" stroke="#4a4608" stroke-width="1.0"/>
<ellipse cx="456" cy="224.7" rx="10.8" ry="11.3" fill="#f8f400" stroke="#4a4608" stroke-width="1.0"/>
<ellipse cx="652.8" cy="247.1" rx="4.5" ry="4.5" fill="#98ea30" stroke="#2f5a12" stroke-width="1.0"/>
<ellipse cx="652.8" cy="247.1" rx="1.8" ry="1.8" fill="#2e8a2a"/>
<path d="M0,0 L330,0 L324,22 L335,35 C338.3,35.8 347.5,38.1 355,40 C362.5,41.9 373.3,44.6 380,46.6 C386.7,48.6 391.2,50.2 395,51.7 C398.8,53.2 400.2,53.9 402.8,55.6 C405.4,57.3 408.2,59.7 410.6,62.1 C413,64.5 415.2,67.1 417.1,69.9 C419.1,72.7 420.6,76 422.3,79 C424,82 425.8,85.3 427.5,88.1 C429.2,90.9 430.5,93.8 432.7,95.8 C434.9,97.8 437.2,98.7 440.7,100 C444.2,101.3 449,102.7 453.6,103.6 C458.2,104.5 463.4,105.5 468.3,105.5 C473.2,105.5 477.7,104.5 483,103.6 C488.3,102.7 494.9,100.9 500,100 C505.1,99.1 508.2,98.9 513.3,98.2 C518.4,97.5 525.9,96.7 530.6,96 C535.3,95.3 538.6,95.2 541.5,93.8 C544.4,92.3 546.2,89.8 548,87.3 C549.8,84.8 551.2,81.2 552.3,78.7 C553.4,76.2 554.1,73.1 554.5,72 L556,60 L574,60 L574,72 C573.6,74.5 572.5,82.9 571.8,87.3 C571.1,91.7 569.2,95 569.6,98.2 C570,101.5 572.2,104.3 574,106.8 C575.8,109.3 579.7,110.8 580.4,113.3 C581.1,115.8 580.5,119.5 578.3,122 C576.1,124.5 570.6,126.7 567.4,128.5 C564.1,130.3 560.9,130.6 558.8,132.8 C556.6,135 555.2,138.2 554.5,141.5 C553.8,144.8 554.3,148.7 554.5,152.3 C554.7,155.9 555.2,159.1 555.5,163 C555.8,166.9 556.8,171.5 556.4,176 C556,180.5 555.1,186.2 553,190 C550.9,193.8 546.2,196 544,199 C541.8,202 539.7,205.2 539.7,207.9 C539.7,210.7 543.2,212.5 544.2,215.5 C545.2,218.5 546.2,222.9 545.5,226 C544.8,229.1 542.6,231.8 540,234 C537.4,236.2 533.3,238.1 530,239 C526.7,239.9 523.4,239.8 520,239.5 C516.6,239.2 512.7,238.2 509.4,237.1 C506.1,236 503.3,234.7 500.3,233.2 C497.3,231.7 494,229.9 491.2,228 C488.4,226.1 486,224 483.4,221.6 C480.8,219.2 478.2,216.4 475.6,213.8 C473,211.2 470.4,208.1 467.8,206 C465.2,203.9 462.6,203 460,201 C457.4,199 455.6,195.4 452.5,194 C449.4,192.6 444.9,192.5 441.7,192.5 C438.4,192.5 435.2,192.6 433,193.8 C430.8,195.1 429.4,194.8 428.7,200 C428,205.2 428.8,218.7 428.8,225 C428.8,231.3 429.5,234 428.8,238 C428.1,242 426.3,246.3 424.5,248.8 C422.7,251.3 420.5,253.2 418,253.2 C415.5,253.2 411.7,250.8 409.3,248.8 C406.9,246.8 405.3,244.1 403.6,241 C401.9,237.9 400,234.4 399.3,230.1 C398.6,225.8 398.2,219.3 399.3,215 C400.4,210.7 403.6,207 405.8,204.1 C408,201.2 409.8,199 412.3,197.6 C414.8,196.2 418.8,196.6 421,195.5 C423.2,194.4 424.6,192.9 425.3,191.1 C426,189.3 426,187.5 425.3,184.6 C424.6,181.7 422.8,177.4 421,173.8 C419.2,170.2 417.8,166.2 414.5,163 C411.2,159.8 406.2,155.9 401.5,154.3 C396.8,152.7 391.4,153.1 386,153.5 C380.6,153.9 372.2,157.1 369,157 C365.8,156.9 366.1,155.5 366.8,153.1 C367.5,150.7 370.8,145.9 373.3,142.3 C375.8,138.7 379.8,135.1 382,131.5 C384.2,127.9 385.2,124.2 386.3,120.6 C387.4,117 388.9,113 388.5,109.8 C388.1,106.5 386.6,102.7 384.1,101.1 C381.6,99.5 376.4,100 373.3,100 C370.2,100 369.8,101 365.5,101 C361.2,101 353.2,100.1 347.6,99.8 C342,99.5 337.9,99.3 331.6,99 C325.3,98.7 317.2,98.5 310,97.9 C302.8,97.4 295.5,96.2 288.3,95.7 C281.1,95.2 273,94.8 266.6,94.6 C260.2,94.4 254.7,94.3 250,94.5 C245.3,94.7 242.1,95.3 238.3,96 C234.6,96.7 230.6,97.2 227.5,98.5 C224.4,99.8 222,101.5 219.9,103.5 C217.8,105.5 216.1,107.8 215,110.5 C213.9,113.2 213.4,116.6 213.2,120 C213,123.4 213.7,127.4 213.6,131 C213.5,134.6 213.3,138.1 212.5,141.7 C211.7,145.3 210.7,149.2 208.8,152.5 C206.9,155.8 204.1,158.7 201.3,161.2 C198.5,163.7 194.7,165.7 192,167.5 C189.3,169.3 187.2,170.3 185,172 C182.8,173.7 181,176.2 178.7,177.4 C176.3,178.6 173.3,179 170.9,179.3 C168.5,179.6 166.2,179.6 164.1,179.3 C162,179 159.8,177.4 158.2,177.4 C156.6,177.4 155.8,178.2 154.3,179.3 C152.9,180.4 151.9,182.2 149.5,184.2 C147.1,186.2 142.9,189.4 139.7,191.5 C136.4,193.6 133.1,195 130,196.5 C126.9,198 123.2,199.1 121,200.5 C118.8,201.9 118,203.4 116.6,205.2 C115.1,207 113.7,209.3 112.3,211.3 C110.9,213.3 109.4,215.4 108,217.3 C106.6,219.2 105.3,220.8 103.7,222.5 C102.1,224.2 100.5,226.9 98.5,227.7 C96.5,228.5 94.1,227.3 92,227.2 C89.9,227.1 88.2,227.7 85.7,227.3 C83.2,226.9 79.8,225.9 77.1,224.6 C74.4,223.2 71.8,221.4 69.5,219.2 C67.2,217 65,213.6 63,211.6 C61,209.6 59.3,209.9 57.3,207 C55.3,204.1 52.7,197.2 50.8,194 C48.9,190.8 46.8,189 46,188 L40,184 L0,184 L0,0 Z" fill="#cf3a0a"/>
<path d="M335,35 C338.3,35.8 347.5,38.1 355,40 C362.5,41.9 373.3,44.6 380,46.6 C386.7,48.6 391.2,50.2 395,51.7 C398.8,53.2 400.2,53.9 402.8,55.6 C405.4,57.3 408.2,59.7 410.6,62.1 C413,64.5 415.2,67.1 417.1,69.9 C419.1,72.7 420.6,76 422.3,79 C424,82 425.8,85.3 427.5,88.1 C429.2,90.9 430.5,93.8 432.7,95.8 C434.9,97.8 437.2,98.7 440.7,100 C444.2,101.3 449,102.7 453.6,103.6 C458.2,104.5 463.4,105.5 468.3,105.5 C473.2,105.5 477.7,104.5 483,103.6 C488.3,102.7 494.9,100.9 500,100 C505.1,99.1 508.2,98.9 513.3,98.2 C518.4,97.5 525.9,96.7 530.6,96 C535.3,95.3 538.6,95.2 541.5,93.8 C544.4,92.3 546.2,89.8 548,87.3 C549.8,84.8 551.2,81.2 552.3,78.7 C553.4,76.2 554.1,73.1 554.5,72" fill="none" stroke="#3a220c" stroke-width="1.0"/>
<path d="M574,72 C573.6,74.5 572.5,82.9 571.8,87.3 C571.1,91.7 569.2,95 569.6,98.2 C570,101.5 572.2,104.3 574,106.8 C575.8,109.3 579.7,110.8 580.4,113.3 C581.1,115.8 580.5,119.5 578.3,122 C576.1,124.5 570.6,126.7 567.4,128.5 C564.1,130.3 560.9,130.6 558.8,132.8 C556.6,135 555.2,138.2 554.5,141.5 C553.8,144.8 554.3,148.7 554.5,152.3 C554.7,155.9 555.2,159.1 555.5,163 C555.8,166.9 556.8,171.5 556.4,176 C556,180.5 555.1,186.2 553,190 C550.9,193.8 546.2,196 544,199 C541.8,202 539.7,205.2 539.7,207.9 C539.7,210.7 543.2,212.5 544.2,215.5 C545.2,218.5 546.2,222.9 545.5,226 C544.8,229.1 542.6,231.8 540,234 C537.4,236.2 533.3,238.1 530,239 C526.7,239.9 523.4,239.8 520,239.5 C516.6,239.2 512.7,238.2 509.4,237.1 C506.1,236 503.3,234.7 500.3,233.2 C497.3,231.7 494,229.9 491.2,228 C488.4,226.1 486,224 483.4,221.6 C480.8,219.2 478.2,216.4 475.6,213.8 C473,211.2 470.4,208.1 467.8,206 C465.2,203.9 462.6,203 460,201 C457.4,199 455.6,195.4 452.5,194 C449.4,192.6 444.9,192.5 441.7,192.5 C438.4,192.5 435.2,192.6 433,193.8 C430.8,195.1 429.4,194.8 428.7,200 C428,205.2 428.8,218.7 428.8,225 C428.8,231.3 429.5,234 428.8,238 C428.1,242 426.3,246.3 424.5,248.8 C422.7,251.3 420.5,253.2 418,253.2 C415.5,253.2 411.7,250.8 409.3,248.8 C406.9,246.8 405.3,244.1 403.6,241 C401.9,237.9 400,234.4 399.3,230.1 C398.6,225.8 398.2,219.3 399.3,215 C400.4,210.7 403.6,207 405.8,204.1 C408,201.2 409.8,199 412.3,197.6 C414.8,196.2 418.8,196.6 421,195.5 C423.2,194.4 424.6,192.9 425.3,191.1 C426,189.3 426,187.5 425.3,184.6 C424.6,181.7 422.8,177.4 421,173.8 C419.2,170.2 417.8,166.2 414.5,163 C411.2,159.8 406.2,155.9 401.5,154.3 C396.8,152.7 391.4,153.1 386,153.5 C380.6,153.9 372.2,157.1 369,157 C365.8,156.9 366.1,155.5 366.8,153.1 C367.5,150.7 370.8,145.9 373.3,142.3 C375.8,138.7 379.8,135.1 382,131.5 C384.2,127.9 385.2,124.2 386.3,120.6 C387.4,117 388.9,113 388.5,109.8 C388.1,106.5 386.6,102.7 384.1,101.1 C381.6,99.5 376.4,100 373.3,100 C370.2,100 369.8,101 365.5,101 C361.2,101 353.2,100.1 347.6,99.8 C342,99.5 337.9,99.3 331.6,99 C325.3,98.7 317.2,98.5 310,97.9 C302.8,97.4 295.5,96.2 288.3,95.7 C281.1,95.2 273,94.8 266.6,94.6 C260.2,94.4 254.7,94.3 250,94.5 C245.3,94.7 242.1,95.3 238.3,96 C234.6,96.7 230.6,97.2 227.5,98.5 C224.4,99.8 222,101.5 219.9,103.5 C217.8,105.5 216.1,107.8 215,110.5 C213.9,113.2 213.4,116.6 213.2,120 C213,123.4 213.7,127.4 213.6,131 C213.5,134.6 213.3,138.1 212.5,141.7 C211.7,145.3 210.7,149.2 208.8,152.5 C206.9,155.8 204.1,158.7 201.3,161.2 C198.5,163.7 194.7,165.7 192,167.5 C189.3,169.3 187.2,170.3 185,172 C182.8,173.7 181,176.2 178.7,177.4 C176.3,178.6 173.3,179 170.9,179.3 C168.5,179.6 166.2,179.6 164.1,179.3 C162,179 159.8,177.4 158.2,177.4 C156.6,177.4 155.8,178.2 154.3,179.3 C152.9,180.4 151.9,182.2 149.5,184.2 C147.1,186.2 142.9,189.4 139.7,191.5 C136.4,193.6 133.1,195 130,196.5 C126.9,198 123.2,199.1 121,200.5 C118.8,201.9 118,203.4 116.6,205.2 C115.1,207 113.7,209.3 112.3,211.3 C110.9,213.3 109.4,215.4 108,217.3 C106.6,219.2 105.3,220.8 103.7,222.5 C102.1,224.2 100.5,226.9 98.5,227.7 C96.5,228.5 94.1,227.3 92,227.2 C89.9,227.1 88.2,227.7 85.7,227.3 C83.2,226.9 79.8,225.9 77.1,224.6 C74.4,223.2 71.8,221.4 69.5,219.2 C67.2,217 65,213.6 63,211.6 C61,209.6 59.3,209.9 57.3,207 C55.3,204.1 52.7,197.2 50.8,194 C48.9,190.8 46.8,189 46,188" fill="none" stroke="#3a220c" stroke-width="1.0"/>
<path d="M600,30 L606,70 L607.3,81.7 C607.7,82.8 607,87.5 609.5,88.2 C612,88.9 616.7,86.7 622.5,86 C628.3,85.3 638.6,84.7 644.1,83.8 C649.6,82.9 650.8,80.8 655.2,80.5 C659.6,80.2 665.2,82 670.3,82 C675.3,82 682,81.5 685.5,80.5 C689,79.5 690,77.7 691.5,75.9 C693,74.1 693.5,72.1 694.5,69.8 C695.5,67.5 696.9,65.1 697.6,62.3 C698.4,59.5 698.4,55.5 699,53.2 C699.6,50.9 700.3,49.3 701.5,48.5 C702.7,47.7 704.2,48.1 706,48.5 C707.8,48.9 710.2,50 712,51 C713.8,52 715.2,53.4 716.5,54.5 C717.8,55.6 718.9,56.4 720,57.7 C721.1,59 723.5,59.8 723.3,62.3 C723.1,64.8 720.8,70.1 718.8,72.9 C716.8,75.7 713.7,77.1 711.2,78.9 C708.7,80.7 705.4,81.5 703.6,83.5 C701.8,85.5 701.4,88.5 700.6,91 C699.8,93.5 699.5,96.3 699,98.6 C698.5,100.9 698.4,102.3 697.6,105 C696.8,107.7 695,112.4 694,115 C693,117.6 692.6,116.1 691.8,120.6 C691,125 689.9,135.1 689.4,141.7 C688.9,148.3 689.1,155.3 688.5,160 C687.9,164.7 688.4,167.7 686,170 C683.6,172.3 679.1,173.3 674.3,174 C669.5,174.7 662.4,173.3 657,174.1 C651.6,174.8 645.4,176.7 641.8,178.5 C638.2,180.3 636,182.5 635.3,185 C634.6,187.5 635.2,191.1 637.4,193.6 C639.6,196.1 644.3,198.6 648.3,200.1 C652.3,201.6 656.6,202.8 661.3,202.3 C666,201.8 672.8,199 676.6,197.3 C680.4,195.6 681.5,193.6 684,192 C686.5,190.4 689.6,188.9 691.6,188 C693.6,187.1 694.5,185.2 696,186.8 C697.5,188.4 698.9,193.6 700.3,197.6 C701.7,201.6 703.1,206.6 704.6,210.6 C706.1,214.6 706.8,217.8 709,221.4 C711.2,225 713.3,229.4 717.6,232.3 C721.9,235.2 728.4,237.3 734.9,238.7 C741.4,240.1 749.4,240.3 756.6,240.9 C763.8,241.5 771,242 778.2,242 C785.4,242 796.3,241.1 799.9,240.9 L806,240 L830,240 L830,30 L600,30 Z" fill="#cf3a0a"/>
<path d="M607.3,81.7 C607.7,82.8 607,87.5 609.5,88.2 C612,88.9 616.7,86.7 622.5,86 C628.3,85.3 638.6,84.7 644.1,83.8 C649.6,82.9 650.8,80.8 655.2,80.5 C659.6,80.2 665.2,82 670.3,82 C675.3,82 682,81.5 685.5,80.5 C689,79.5 690,77.7 691.5,75.9 C693,74.1 693.5,72.1 694.5,69.8 C695.5,67.5 696.9,65.1 697.6,62.3 C698.4,59.5 698.4,55.5 699,53.2 C699.6,50.9 700.3,49.3 701.5,48.5 C702.7,47.7 704.2,48.1 706,48.5 C707.8,48.9 710.2,50 712,51 C713.8,52 715.2,53.4 716.5,54.5 C717.8,55.6 718.9,56.4 720,57.7 C721.1,59 723.5,59.8 723.3,62.3 C723.1,64.8 720.8,70.1 718.8,72.9 C716.8,75.7 713.7,77.1 711.2,78.9 C708.7,80.7 705.4,81.5 703.6,83.5 C701.8,85.5 701.4,88.5 700.6,91 C699.8,93.5 699.5,96.3 699,98.6 C698.5,100.9 698.4,102.3 697.6,105 C696.8,107.7 695,112.4 694,115 C693,117.6 692.6,116.1 691.8,120.6 C691,125 689.9,135.1 689.4,141.7 C688.9,148.3 689.1,155.3 688.5,160 C687.9,164.7 688.4,167.7 686,170 C683.6,172.3 679.1,173.3 674.3,174 C669.5,174.7 662.4,173.3 657,174.1 C651.6,174.8 645.4,176.7 641.8,178.5 C638.2,180.3 636,182.5 635.3,185 C634.6,187.5 635.2,191.1 637.4,193.6 C639.6,196.1 644.3,198.6 648.3,200.1 C652.3,201.6 656.6,202.8 661.3,202.3 C666,201.8 672.8,199 676.6,197.3 C680.4,195.6 681.5,193.6 684,192 C686.5,190.4 689.6,188.9 691.6,188 C693.6,187.1 694.5,185.2 696,186.8 C697.5,188.4 698.9,193.6 700.3,197.6 C701.7,201.6 703.1,206.6 704.6,210.6 C706.1,214.6 706.8,217.8 709,221.4 C711.2,225 713.3,229.4 717.6,232.3 C721.9,235.2 728.4,237.3 734.9,238.7 C741.4,240.1 749.4,240.3 756.6,240.9 C763.8,241.5 771,242 778.2,242 C785.4,242 796.3,241.1 799.9,240.9" fill="none" stroke="#3a220c" stroke-width="1.0"/>
<path d="M555.6,203.4 C556.2,201.9 557.5,200.4 559.5,199.5 C561.5,198.6 564.5,198 567.3,198.2 C570.1,198.4 573.6,199.9 576.4,200.8 C579.2,201.7 581.6,202.5 584.2,203.4 C586.8,204.3 589.6,204.9 592,206 C594.4,207.1 596.7,208.2 598.4,209.9 C600.1,211.6 601.9,214.2 602.3,216.4 C602.7,218.6 602.3,221 601,222.9 C599.7,224.8 597.1,226.9 594.5,228 C591.9,229.1 588.3,229.6 585.5,229.4 C582.7,229.2 579.7,228.1 577.7,226.8 C575.8,225.5 574.9,223.6 573.8,221.6 C572.7,219.6 572.5,216.3 571.2,215 C569.9,213.7 568,214.2 566,213.8 C564,213.4 561.2,213.4 559.5,212.5 C557.8,211.6 556.2,210.1 555.6,208.6 C555,207.1 555,204.9 555.6,203.4 Z" fill="#cf3a0a"/>
<path d="M555.6,203.4 C556.2,201.9 557.5,200.4 559.5,199.5 C561.5,198.6 564.5,198 567.3,198.2 C570.1,198.4 573.6,199.9 576.4,200.8 C579.2,201.7 581.6,202.5 584.2,203.4 C586.8,204.3 589.6,204.9 592,206 C594.4,207.1 596.7,208.2 598.4,209.9 C600.1,211.6 601.9,214.2 602.3,216.4 C602.7,218.6 602.3,221 601,222.9 C599.7,224.8 597.1,226.9 594.5,228 C591.9,229.1 588.3,229.6 585.5,229.4 C582.7,229.2 579.7,228.1 577.7,226.8 C575.8,225.5 574.9,223.6 573.8,221.6 C572.7,219.6 572.5,216.3 571.2,215 C569.9,213.7 568,214.2 566,213.8 C564,213.4 561.2,213.4 559.5,212.5 C557.8,211.6 556.2,210.1 555.6,208.6 C555,207.1 555,204.9 555.6,203.4 Z" fill="none" stroke="#3a220c" stroke-width="1.0"/>
<path d="M348.7,311.6 C349.1,309.4 348.6,302.2 350.8,298.6 C353,295 357.4,292.5 361.7,290 C366,287.5 371.8,286 376.8,283.5 C381.9,281 387.3,277.3 392,274.8 C396.7,272.3 401.4,269.8 405,268.3 C408.6,266.9 411.4,265.7 413.6,266.1 C415.8,266.5 417.6,268 418,270.5 C418.4,273 416.9,277.3 415.8,281.3 C414.7,285.3 413.3,291.1 411.5,294.3 C409.7,297.6 406.9,298.9 405,300.8 C403.1,302.8 400.8,305.1 400,306 L398,325 L345,330 L348.7,311.6 Z" fill="#cf3a0a"/>
<path d="M348.7,311.6 C349.1,309.4 348.6,302.2 350.8,298.6 C353,295 357.4,292.5 361.7,290 C366,287.5 371.8,286 376.8,283.5 C381.9,281 387.3,277.3 392,274.8 C396.7,272.3 401.4,269.8 405,268.3 C408.6,266.9 411.4,265.7 413.6,266.1 C415.8,266.5 417.6,268 418,270.5 C418.4,273 416.9,277.3 415.8,281.3 C414.7,285.3 413.3,291.1 411.5,294.3 C409.7,297.6 406.9,298.9 405,300.8 C403.1,302.8 400.8,305.1 400,306" fill="none" stroke="#3a220c" stroke-width="1.0"/>
<ellipse cx="180.5" cy="229" rx="17.8" ry="16.6" fill="#cf3a0a" stroke="#3a220c" stroke-width="1.0"/>
<path d="M0,0 L316,0 L316,26 L318,29 C320.8,31 328,37.5 335,41 C342,44.5 352.5,46.9 360,50 C367.5,53.1 374.2,57.4 380,59.4 C385.8,61.4 391.4,61.2 395,62.1 C398.6,63 399.1,63.4 401.5,64.7 C403.9,66 407.1,68 409.3,69.9 C411.5,71.9 412.8,73.8 414.5,76.4 C416.2,79 418,82.5 419.7,85.5 C421.4,88.5 423.3,91.8 424.9,94.5 C426.4,97.2 427.8,98.9 429,102 C430.2,105.1 431.8,109.5 432,113 C432.2,116.5 431.1,120.3 430,123 C428.9,125.7 428.2,128.6 425.3,129.3 C422.4,130 416.6,128.9 412.3,127.1 C408,125.3 402.9,121.8 399.3,118.5 C395.7,115.2 393.1,111.2 390.6,107.6 C388.1,104 387,99.7 384.1,96.8 C381.2,93.9 378.7,91.4 373.3,90.3 C367.9,89.2 358.6,90.3 351.7,90.3 C344.8,90.3 338.6,90.3 331.6,90.3 C324.7,90.3 317.2,90.6 310,90.3 C302.8,90 295.5,88.8 288.3,88.2 C281.1,87.7 273,87 266.6,87 C260.2,87 254.3,87.9 250,88.3 C245.7,88.7 244.2,88.8 240.5,89.5 C236.8,90.2 231.1,91.2 227.5,92.8 C223.9,94.4 221.3,96.7 218.8,99 C216.3,101.3 214,103.5 212.3,106.4 C210.6,109.3 209.1,113.1 208.5,116.2 C207.9,119.3 208.6,122.5 208.6,125 C208.6,127.5 208.8,128.2 208.6,131 C208.4,133.8 208.3,138.3 207.6,141.7 C206.9,145.1 206.1,148.5 204.3,151.4 C202.5,154.3 199.3,156.8 196.9,159 C194.5,161.2 192.2,163.2 190,164.8 C187.8,166.4 186.3,167.3 183.6,168.6 C180.9,169.9 176.6,171.8 173.8,172.5 C171,173.2 169.4,173.3 167,173 C164.6,172.7 161.3,171.2 159.2,170.6 C157.1,170 155.6,169.4 154.3,169.6 C153,169.8 152.5,170 151.4,171.6 C150.3,173.2 149.4,176.7 147.5,179.3 C145.6,181.9 142.6,185 139.7,187.1 C136.8,189.2 132.3,190.8 130,192 C127.7,193.2 127.5,193 125.8,194 C124.1,195 121.8,196.9 120,198 C118.2,199.1 116.5,199.3 114.9,200.5 C113.3,201.7 112,203.4 110.6,205.2 C109.2,207 107.9,209.3 106.3,211.3 C104.7,213.3 103,215.6 101.1,217.3 C99.2,219 97.6,220.7 95,221.6 C92.4,222.5 88.5,222.7 85.7,222.5 C82.9,222.3 80.4,221.6 78.1,220.3 C75.8,219 73.6,216.9 71.6,214.9 C69.6,212.9 68,210.9 66.2,208.4 C64.4,205.9 62,203 60.6,200 C59.2,197 58.9,193.9 57.6,190.6 C56.3,187.3 54.3,183.1 53,180 C51.7,176.9 51.2,176.3 50,172 C48.8,167.7 45.5,159 45.5,154 C45.5,149 49.6,145.8 50,142 C50.4,138.2 49.7,133.3 48,131 C46.3,128.7 43.8,128.7 40,128 C36.2,127.3 29.2,127.3 25,127 C20.8,126.7 16.7,126.2 15,126 L0,126 L0,0 Z" fill="#6b3434"/>
<path d="M318,29 C320.8,31 328,37.5 335,41 C342,44.5 352.5,46.9 360,50 C367.5,53.1 374.2,57.4 380,59.4 C385.8,61.4 391.4,61.2 395,62.1 C398.6,63 399.1,63.4 401.5,64.7 C403.9,66 407.1,68 409.3,69.9 C411.5,71.9 412.8,73.8 414.5,76.4 C416.2,79 418,82.5 419.7,85.5 C421.4,88.5 423.3,91.8 424.9,94.5 C426.4,97.2 427.8,98.9 429,102 C430.2,105.1 431.8,109.5 432,113 C432.2,116.5 431.1,120.3 430,123 C428.9,125.7 428.2,128.6 425.3,129.3 C422.4,130 416.6,128.9 412.3,127.1 C408,125.3 402.9,121.8 399.3,118.5 C395.7,115.2 393.1,111.2 390.6,107.6 C388.1,104 387,99.7 384.1,96.8 C381.2,93.9 378.7,91.4 373.3,90.3 C367.9,89.2 358.6,90.3 351.7,90.3 C344.8,90.3 338.6,90.3 331.6,90.3 C324.7,90.3 317.2,90.6 310,90.3 C302.8,90 295.5,88.8 288.3,88.2 C281.1,87.7 273,87 266.6,87 C260.2,87 254.3,87.9 250,88.3 C245.7,88.7 244.2,88.8 240.5,89.5 C236.8,90.2 231.1,91.2 227.5,92.8 C223.9,94.4 221.3,96.7 218.8,99 C216.3,101.3 214,103.5 212.3,106.4 C210.6,109.3 209.1,113.1 208.5,116.2 C207.9,119.3 208.6,122.5 208.6,125 C208.6,127.5 208.8,128.2 208.6,131 C208.4,133.8 208.3,138.3 207.6,141.7 C206.9,145.1 206.1,148.5 204.3,151.4 C202.5,154.3 199.3,156.8 196.9,159 C194.5,161.2 192.2,163.2 190,164.8 C187.8,166.4 186.3,167.3 183.6,168.6 C180.9,169.9 176.6,171.8 173.8,172.5 C171,173.2 169.4,173.3 167,173 C164.6,172.7 161.3,171.2 159.2,170.6 C157.1,170 155.6,169.4 154.3,169.6 C153,169.8 152.5,170 151.4,171.6 C150.3,173.2 149.4,176.7 147.5,179.3 C145.6,181.9 142.6,185 139.7,187.1 C136.8,189.2 132.3,190.8 130,192 C127.7,193.2 127.5,193 125.8,194 C124.1,195 121.8,196.9 120,198 C118.2,199.1 116.5,199.3 114.9,200.5 C113.3,201.7 112,203.4 110.6,205.2 C109.2,207 107.9,209.3 106.3,211.3 C104.7,213.3 103,215.6 101.1,217.3 C99.2,219 97.6,220.7 95,221.6 C92.4,222.5 88.5,222.7 85.7,222.5 C82.9,222.3 80.4,221.6 78.1,220.3 C75.8,219 73.6,216.9 71.6,214.9 C69.6,212.9 68,210.9 66.2,208.4 C64.4,205.9 62,203 60.6,200 C59.2,197 58.9,193.9 57.6,190.6 C56.3,187.3 54.3,183.1 53,180 C51.7,176.9 51.2,176.3 50,172 C48.8,167.7 45.5,159 45.5,154 C45.5,149 49.6,145.8 50,142 C50.4,138.2 49.7,133.3 48,131 C46.3,128.7 43.8,128.7 40,128 C36.2,127.3 29.2,127.3 25,127 C20.8,126.7 16.7,126.2 15,126" fill="none" stroke="#3a220c" stroke-width="1.0"/>
<path d="M480.6,130.3 C481.7,128.3 481,126.3 482.8,123.8 C484.6,121.3 487.5,117.7 491.5,115.2 C495.5,112.7 501.2,110.2 506.6,108.7 C512,107.2 518.2,106.5 524,106.5 C529.8,106.5 537.3,106.9 541.3,108.7 C545.3,110.5 546.3,113.3 547.8,117.3 C549.2,121.3 549.5,126.4 550,132.5 C550.5,138.6 550.9,147.8 551,154 C551.1,160.2 550.5,164.8 550.5,170 C550.5,175.2 551.5,180.7 551,185 C550.5,189.3 548.9,193 547.3,195.8 C545.7,198.6 542.7,199.8 541.2,201.8 C539.7,203.8 538,205.6 538.2,207.9 C538.5,210.2 542,212.7 542.7,215.5 C543.5,218.3 544,222 542.7,224.5 C541.5,227 538,229.3 535.2,230.6 C532.4,231.9 528.5,232.3 526,232.1 C523.5,231.9 521.9,230.2 520,229.5 C518.1,228.8 516.9,228.7 514.5,228 C512.1,227.3 508.5,226.6 505.5,225.5 C502.5,224.4 499.4,223.3 496.4,221.6 C493.4,219.9 490.1,217.5 487.3,215.1 C484.5,212.7 482.1,209.9 479.5,207.3 C476.9,204.7 474.1,201.7 471.7,199.5 C469.3,197.3 467.1,196.2 465.2,194.3 C463.2,192.4 461.7,191.7 460,188 C458.3,184.3 455.5,176.6 455.2,172.3 C454.9,168 456.3,165 458,162 C459.7,159 463.5,157.2 465.6,154.2 C467.7,151.2 469.1,146.8 470.8,143.8 C472.5,140.8 474.4,138.2 476,136 C477.6,133.8 479.5,132.3 480.6,130.3 Z" fill="#6b3434"/>
<path d="M480.6,130.3 C481.7,128.3 481,126.3 482.8,123.8 C484.6,121.3 487.5,117.7 491.5,115.2 C495.5,112.7 501.2,110.2 506.6,108.7 C512,107.2 518.2,106.5 524,106.5 C529.8,106.5 537.3,106.9 541.3,108.7 C545.3,110.5 546.3,113.3 547.8,117.3 C549.2,121.3 549.5,126.4 550,132.5 C550.5,138.6 550.9,147.8 551,154 C551.1,160.2 550.5,164.8 550.5,170 C550.5,175.2 551.5,180.7 551,185 C550.5,189.3 548.9,193 547.3,195.8 C545.7,198.6 542.7,199.8 541.2,201.8 C539.7,203.8 538,205.6 538.2,207.9 C538.5,210.2 542,212.7 542.7,215.5 C543.5,218.3 544,222 542.7,224.5 C541.5,227 538,229.3 535.2,230.6 C532.4,231.9 528.5,232.3 526,232.1 C523.5,231.9 521.9,230.2 520,229.5 C518.1,228.8 516.9,228.7 514.5,228 C512.1,227.3 508.5,226.6 505.5,225.5 C502.5,224.4 499.4,223.3 496.4,221.6 C493.4,219.9 490.1,217.5 487.3,215.1 C484.5,212.7 482.1,209.9 479.5,207.3 C476.9,204.7 474.1,201.7 471.7,199.5 C469.3,197.3 467.1,196.2 465.2,194.3 C463.2,192.4 461.7,191.7 460,188 C458.3,184.3 455.5,176.6 455.2,172.3 C454.9,168 456.3,165 458,162 C459.7,159 463.5,157.2 465.6,154.2 C467.7,151.2 469.1,146.8 470.8,143.8 C472.5,140.8 474.4,138.2 476,136 C477.6,133.8 479.5,132.3 480.6,130.3 Z" fill="none" stroke="#3a220c" stroke-width="1.0"/>
<path d="M614,40 L614,60 L618,74 L620.3,77.3 C622.5,76.6 630,74 633.3,73 C636.6,72 636.4,71.7 640,71.4 C643.6,71.1 650.2,71.7 655.2,71.4 C660.2,71.1 666.3,70.6 670.3,69.8 C674.3,69 676.9,68.3 679.4,66.8 C681.9,65.3 684,62.8 685.5,60.8 C687,58.8 687.8,56.8 688.5,54.7 C689.2,52.6 689.8,49.1 690,48 L692,40 L614,40 Z" fill="#6b3434"/>
<path d="M620.3,77.3 C622.5,76.6 630,74 633.3,73 C636.6,72 636.4,71.7 640,71.4 C643.6,71.1 650.2,71.7 655.2,71.4 C660.2,71.1 666.3,70.6 670.3,69.8 C674.3,69 676.9,68.3 679.4,66.8 C681.9,65.3 684,62.8 685.5,60.8 C687,58.8 687.8,56.8 688.5,54.7 C689.2,52.6 689.8,49.1 690,48" fill="none" stroke="#3a220c" stroke-width="1.0"/>
<path d="M746,95 L746,99 C744.7,99.2 742,99.5 738,100 C734,100.5 726.8,100.5 722,102 C717.2,103.5 712.3,106 709,109 C705.7,112 703.7,115.7 702,120 C700.3,124.3 699.7,130 699,135 C698.3,140 698.2,145.7 698,150 C697.8,154.3 697.2,157.4 698,161 C698.8,164.6 701,167.7 702.5,171.6 C704,175.5 705.4,179.9 706.8,184.6 C708.2,189.3 710,195.1 711.1,199.8 C712.2,204.5 712.2,208.8 713.3,212.8 C714.4,216.8 715.1,220.3 717.6,223.6 C720.1,226.8 723.7,230.3 728.4,232.3 C733.1,234.3 739.3,234.8 745.8,235.5 C752.3,236.2 760.2,236.6 767.4,236.6 C774.6,236.6 783.6,235.3 789,235.5 C794.4,235.7 798.2,237.3 800,237.7 L830,238 L830,95 L746,95 Z" fill="#6b3434"/>
<path d="M746,99 C744.7,99.2 742,99.5 738,100 C734,100.5 726.8,100.5 722,102 C717.2,103.5 712.3,106 709,109 C705.7,112 703.7,115.7 702,120 C700.3,124.3 699.7,130 699,135 C698.3,140 698.2,145.7 698,150 C697.8,154.3 697.2,157.4 698,161 C698.8,164.6 701,167.7 702.5,171.6 C704,175.5 705.4,179.9 706.8,184.6 C708.2,189.3 710,195.1 711.1,199.8 C712.2,204.5 712.2,208.8 713.3,212.8 C714.4,216.8 715.1,220.3 717.6,223.6 C720.1,226.8 723.7,230.3 728.4,232.3 C733.1,234.3 739.3,234.8 745.8,235.5 C752.3,236.2 760.2,236.6 767.4,236.6 C774.6,236.6 783.6,235.3 789,235.5 C794.4,235.7 798.2,237.3 800,237.7" fill="none" stroke="#3a220c" stroke-width="1.0"/>
<ellipse cx="180" cy="231" rx="13.5" ry="12.5" fill="#6b3434" stroke="#3a220c" stroke-width="1.0"/>
<ellipse cx="410" cy="221.4" rx="8.5" ry="8.5" fill="#6b3434" stroke="#3a220c" stroke-width="1.0"/>
<ellipse cx="565.5" cy="205.5" rx="4.5" ry="4.5" fill="#6b3434" stroke="#3a220c" stroke-width="1.0"/>
<ellipse cx="587" cy="216" rx="10" ry="10" fill="none" stroke="#3a220c" stroke-width="0.8"/>
<ellipse cx="587" cy="216" rx="7" ry="7" fill="#6b3434" stroke="#3a220c" stroke-width="1.0"/>
<path d="M44,12 L97,12 L96,20 C95.4,21.2 94.3,25 92.5,27.5 C90.7,30 88.3,32.9 85,35 C81.7,37.1 77.1,40 72.5,40 C67.9,40 61.8,36.8 57.5,35 C53.2,33.2 49.4,30.8 47,29 C44.6,27.2 43.7,24.8 43,24 L43,15 L44,12 Z" fill="#cf3a0a"/>
<path d="M96,20 C95.4,21.2 94.3,25 92.5,27.5 C90.7,30 88.3,32.9 85,35 C81.7,37.1 77.1,40 72.5,40 C67.9,40 61.8,36.8 57.5,35 C53.2,33.2 49.4,30.8 47,29 C44.6,27.2 43.7,24.8 43,24" fill="none" stroke="#3a220c" stroke-width="1.0"/>
<path d="M760,122 C761.3,120.8 766.7,120.2 770,120 C773.3,119.8 777.3,120.2 780,121 C782.7,121.8 785.7,123.8 786,125 C786.3,126.2 784.7,127.7 782,128 C779.3,128.3 773.3,127.2 770,127 C766.7,126.8 763.7,127.8 762,127 C760.3,126.2 758.7,123.2 760,122 Z" fill="#cf3a0a"/>
<path d="M760,122 C761.3,120.8 766.7,120.2 770,120 C773.3,119.8 777.3,120.2 780,121 C782.7,121.8 785.7,123.8 786,125 C786.3,126.2 784.7,127.7 782,128 C779.3,128.3 773.3,127.2 770,127 C766.7,126.8 763.7,127.8 762,127 C760.3,126.2 758.7,123.2 760,122 Z" fill="none" stroke="#3a220c" stroke-width="1.0"/>
<path d="M0,60 L28,52 C29.2,51.3 32.2,49.2 35,48 C37.8,46.8 40.8,45.3 45,45 C49.2,44.7 55.8,44.8 60,46 C64.2,47.2 67.5,49.3 70,52 C72.5,54.7 74.2,60.3 75,62 L78,72 L90,72 L92.5,65 C93.3,63.8 95.8,60 97.5,57.5 C99.2,55 100.8,52.2 102.5,50 C104.2,47.8 106.7,45 107.5,44 L112,38 L200,40 L300,20 L305,29 L306,33 C307,34.2 308.8,37.7 312,40 C315.2,42.3 321.2,45 325,47 C328.8,49 331.7,50.3 335,52 C338.3,53.7 342.5,55.3 345,57 C347.5,58.7 348.7,59.8 350,62 C351.3,64.2 352.7,67.3 353,70 C353.3,72.7 353,75.7 352,78 C351,80.3 349,82.7 347,84 C345,85.3 342.8,85.3 340,86 C337.2,86.7 333.3,88 330,88 C326.7,88 325,86.8 320,86 C315,85.2 305.3,83.5 300,83 C294.7,82.5 293.6,82.9 288,82.7 C282.4,82.5 272.9,81.8 266.6,81.7 C260.3,81.6 254.7,81.5 250,82 C245.3,82.5 242.4,83.6 238.3,84.8 C234.2,86 228.9,87.5 225.3,89.1 C221.7,90.7 219.2,92.2 216.7,94.5 C214.2,96.8 212,100.1 210.2,103.2 C208.4,106.3 206.9,109.8 205.8,112.9 C204.7,116 204.1,119 203.8,122 C203.6,125 204.4,127.5 204.3,130.8 C204.2,134.1 204.1,138.4 203.2,141.7 C202.3,144.9 201,148 199.1,150.3 C197.2,152.7 193.8,154.4 191.5,155.8 C189.2,157.2 187.9,158 185,159 C182.1,160 177.3,161.4 174,162 C170.7,162.6 167.9,162.2 165,162.5 C162.1,162.8 158.8,163 156.5,163.8 C154.2,164.6 152.7,165.6 151.3,167.3 C149.9,169 149.9,171.9 147.9,174.2 C145.9,176.5 142.7,179.4 139.2,181.1 C135.7,182.8 131.4,183.4 127.1,184.6 C122.8,185.8 117,186.3 113.3,188 C109.5,189.7 107.1,192.2 104.6,195 C102,197.8 100.4,202.4 98,205 C95.6,207.6 92.7,210.1 90,210.6 C87.3,211.1 84.1,210.1 82,208 C79.9,205.9 78.3,201.8 77.5,198 C76.7,194.2 76.5,189.3 77,185.5 C77.5,181.7 78.1,177.8 80.4,175 C82.7,172.2 87.6,170.9 90.8,169 C94,167.1 97.4,165.2 99.4,163.8 C101.4,162.4 101.3,161.8 103,160.4 C104.7,159 108.1,157.3 109.8,155.2 C111.5,153.1 112.3,151.4 113,148 C113.7,144.6 114.3,139.7 114,135 C113.7,130.3 112.5,123.8 111,120 C109.5,116.2 107.7,114 105,112 C102.3,110 100,108.5 95,108 C90,107.5 81.5,108.7 75,109 C68.5,109.3 62.3,109.3 56,110 C49.7,110.7 42.2,112.7 37,113 C31.8,113.3 27,112.2 25,112 L15,113 L0,110 L0,60 Z" fill="#08070a"/>
<path d="M519.5,125.3 C521.2,125.3 522.3,127.2 523.4,128.6 C524.5,130 524.9,131.6 526,133.8 C527.1,136 528.8,138.6 529.9,141.6 C531,144.6 531.6,148.6 532.5,152 C533.4,155.4 534.2,158.2 535.5,162 C536.8,165.8 538.7,171.2 540,175 C541.3,178.8 542.8,182.2 543.5,185 C544.2,187.8 544.1,189.4 544,192 C543.9,194.6 544.2,197.4 542.7,200.3 C541.2,203.2 538,207.1 535.2,209.4 C532.4,211.7 528.5,213.2 526,214 C523.5,214.8 522.3,214.4 520,214.4 C517.7,214.4 514.9,214.3 512,213.8 C509.1,213.3 505.9,212.3 502.9,211.2 C499.9,210.1 496.6,209 493.8,207.3 C491,205.6 488.4,203 486,200.8 C483.6,198.6 481.4,196.5 479.5,194.3 C477.6,192.1 475.5,190.5 474.3,187.8 C473.1,185.1 472.2,181.3 472.1,178 C472,174.7 472.6,170.7 473.4,168 C474.2,165.3 475.5,163.7 477,162 C478.5,160.3 479.9,159.7 482.5,157.7 C485.1,155.7 489.6,152.3 492.9,149.9 C496.1,147.5 499.5,145.3 502,143.4 C504.5,141.5 506.2,141 508,138.5 C509.8,136 511.1,130.8 513,128.6 C514.9,126.4 517.8,125.3 519.5,125.3 Z" fill="#08070a"/>
<path d="M729,122 C725.5,122 721.7,123 719,125 C716.3,127 714.2,129.8 713,134 C711.8,138.2 711.1,145.2 711.5,150 C711.9,154.8 714.1,158.3 715.5,163 C716.9,167.7 718.7,173 719.8,178 C720.9,183 721.6,188 722,193 C722.4,198 721.7,203.7 722,208 C722.3,212.3 722.6,215.7 724,219 C725.4,222.3 727,225.8 730.6,228 C734.2,230.2 739.7,231.4 745.8,232.3 C751.9,233.2 760.9,233.3 767.4,233.3 C773.9,233.3 780.7,233.2 784.7,232.3 C788.7,231.4 790.1,228.7 791.2,228 L830,228 L830,150 L769,154 L762,149 C761,147.8 758.2,144.5 756,142 C753.8,139.5 751.7,136.8 749,134 C746.3,131.2 743.3,127 740,125 C736.7,123 732.5,122 729,122 Z" fill="#08070a"/>
<path d="M402.5,73 C404.8,73 407.5,73.7 409.5,74.8 C411.5,75.9 413.1,77.6 414.5,79.5 C415.9,81.4 417.1,83.7 418,86 C418.9,88.3 419.8,91.2 420,93.5 C420.2,95.8 419.8,98.2 419,100 C418.2,101.8 417,103 415.5,104 C414,105 412,105.8 410,106 C408,106.2 405.8,106 403.5,105 C401.2,104 398.5,102 396.5,100 C394.5,98 392.7,95.5 391.5,93 C390.3,90.5 389.5,87.5 389.5,85 C389.5,82.5 390.4,79.8 391.5,78 C392.6,76.2 394.2,75.3 396,74.5 C397.8,73.7 400.2,73 402.5,73 Z" fill="#08070a"/>
<ellipse cx="180" cy="231.5" rx="10" ry="10" fill="#08070a"/>
<ellipse cx="565.5" cy="205.5" rx="2" ry="2" fill="#3a1a1a"/>
<path d="M115.4,150 L119.3,134.1 L129,132.2 L148.5,122.4 L158.3,128.3 L168,132.2 L170,142 L183.7,143.9 L189.5,138 L191.5,118.5 L201.2,114.6 L209,104.9 L216.8,104.9 L218.8,95.1 L218.8,75.6 L217.8,71.7" fill="none" stroke="#a4a4a4" stroke-width="1" stroke-linejoin="round"/>
<path d="M189.5,138 L195.4,136.1 L203.2,136.1 L207,134.1 L214.9,130.2 L226.6,128.3 L238.3,128.3" fill="none" stroke="#a4a4a4" stroke-width="1" stroke-linejoin="round"/>
<path d="M403.6,140 L409.7,144.5 L417.3,147.6 L426.4,146.8 L430.9,143 L440,136 L455,130 L482.5,125 L510,135 L535,140 L550,140 L570,138.8 L595,132.5 L615,130" fill="none" stroke="#a4a4a4" stroke-width="1" stroke-linejoin="round"/>
<path d="M535,140 L530,165 L510,180 L485,190 L460,210 L430,230 L415,240" fill="none" stroke="#a4a4a4" stroke-width="1" stroke-linejoin="round"/>
<path d="M47.5,135 L67.5,135 L69,150 L95,162.5 L105,172.5 L115,167.5 L117.5,147.5" fill="none" stroke="#a4a4a4" stroke-width="1" stroke-linejoin="round"/>
<path d="M200,176 L219.5,174.4 L239,177.6 L242.2,189 L235.7,202 L229.2,210 L222.7,218.2 L226,221.4 L245.5,237.7 L261.7,247.4 L274.7,260.4 L284.4,273.4 L297.4,282 L318.1,288.4 L331.8,294.3 L343.5,292.3 L353.2,284.5 L360,280.6" fill="none" stroke="#a4a4a4" stroke-width="1" stroke-linejoin="round"/>
<path d="M575,135 L602,131 L634.7,127.3 L637.2,116 L672.3,114.1 L689.6,103.3 L691.8,73" fill="none" stroke="#a4a4a4" stroke-width="1" stroke-linejoin="round"/>
<path d="M446,219.8 L461,237 L478.5,243.6 L495.8,244.7 L504.4,250" fill="none" stroke="#a4a4a4" stroke-width="1" stroke-linejoin="round"/>
<path d="M104.3,291.7 L118.6,282 L135.2,272.6 L149.5,258.3 L159,248.8" fill="none" stroke="#a4a4a4" stroke-width="1" stroke-linejoin="round"/>
<path d="M650,224 L660,221 L679.5,224.4 L692.5,234.2 L692.5,247.1 L699,260 L718.4,266.6" fill="none" stroke="#a4a4a4" stroke-width="1" stroke-linejoin="round"/>
<path d="M309.5,193.8 C309,195.1 307.6,199.4 308.2,201.6 C308.8,203.8 311.4,205.3 313.4,206.8 C315.3,208.3 318.4,209.7 319.9,210.6 C321.4,211.5 322.3,213.1 322.5,212 C322.7,210.9 322.3,206.4 321.2,204.2 C320.1,202 317.7,200.7 316,199 C314.3,197.3 312.1,194.9 311,194 C309.9,193.1 310,192.5 309.5,193.8 Z" fill="#fff" stroke="#8c8c9c" stroke-width="0.9"/>
<path d="M231,241 C231.8,239.7 234.5,239.3 236,240 C237.5,240.7 238.7,243 240,245 C241.3,247 242.8,249.8 244,252 C245.2,254.2 247,256.5 247,258 C247,259.5 245.5,260.3 244,261 C242.5,261.7 239.7,262.8 238,262 C236.3,261.2 235.2,258.3 234,256 C232.8,253.7 231.5,250.5 231,248 C230.5,245.5 230.2,242.3 231,241 Z" fill="#fff" stroke="#8c8c9c" stroke-width="0.9"/>
<path d="M222,202 C222.7,201.3 224.8,200.4 226,200.6 C227.2,200.8 229.4,202.2 229.4,203 C229.4,203.8 227.2,204.9 226,205.2 C224.8,205.4 222.7,205 222,204.5 C221.3,204 221.3,202.7 222,202 Z" fill="#fff" stroke="#8c8c9c" stroke-width="0.9"/>
<path d="M231,208 C231.8,207.4 234.5,206.5 236,206.7 C237.5,206.9 240,208.2 240,209 C240,209.8 237.5,210.9 236,211.2 C234.5,211.4 231.8,211 231,210.5 C230.2,210 230.2,208.6 231,208 Z" fill="#fff" stroke="#8c8c9c" stroke-width="0.9"/>
<path d="M208.5,212 C209,211.4 210.3,210.9 211,211.2 C211.7,211.5 212.9,213.2 212.7,214 C212.5,214.8 210.8,215.7 210,215.8 C209.2,215.9 208.2,215.1 208,214.5 C207.8,213.9 208,212.6 208.5,212 Z" fill="#fff" stroke="#8c8c9c" stroke-width="0.9"/>
<path d="M104,250 C104.3,249 106.1,248.7 107,249 C107.9,249.3 109.3,250.8 109.5,252 C109.7,253.2 108.8,255.5 108,256 C107.2,256.5 105.7,256 105,255 C104.3,254 103.7,251 104,250 Z" fill="#fff" stroke="#8c8c9c" stroke-width="0.9"/>
<path d="M187,268.5 C187.2,268 188.3,267.3 189,267.4 C189.7,267.5 191.2,268.4 191.4,269 C191.6,269.6 190.7,270.8 190,271 C189.3,271.2 188,270.9 187.5,270.5 C187,270.1 186.8,269 187,268.5 Z" fill="#fff" stroke="#8c8c9c" stroke-width="0.9"/>
<path d="M161.5,285 C161.8,284.2 163,283 164,283 C165,283 167.2,284.1 167.5,285 C167.8,285.9 166.9,288.1 166,288.6 C165.1,289.1 162.8,288.6 162,288 C161.2,287.4 161.2,285.8 161.5,285 Z" fill="#fff" stroke="#8c8c9c" stroke-width="0.9"/>
<path d="M159.5,303.5 C159.8,303 161.1,302.3 162,302.4 C162.9,302.5 164.5,303.4 164.7,304 C164.9,304.6 163.8,305.8 163,306 C162.2,306.2 160.6,305.9 160,305.5 C159.4,305.1 159.2,304 159.5,303.5 Z" fill="#fff" stroke="#8c8c9c" stroke-width="0.9"/>
<path d="M163,310 C163.2,309.5 164.2,308.7 165,308.8 C165.8,308.9 167.3,309.9 167.5,310.5 C167.7,311.1 166.7,312.4 166,312.6 C165.3,312.9 164,312.4 163.5,312 C163,311.6 162.8,310.5 163,310 Z" fill="#fff" stroke="#8c8c9c" stroke-width="0.9"/>
<path d="M104.5,290 C104.8,288.9 106.4,287.6 107.5,287.5 C108.6,287.4 110.7,288.5 111,289.5 C111.3,290.5 110.4,292.8 109.5,293.5 C108.6,294.2 106.3,294.6 105.5,294 C104.7,293.4 104.2,291.1 104.5,290 Z" fill="#fff" stroke="#8c8c9c" stroke-width="0.9"/>
<path d="M254,213.5 C254.3,212.5 255.6,212.4 256,213 C256.4,213.6 256.7,215.8 256.6,217 C256.5,218.2 255.9,219.7 255.5,220 C255.1,220.3 254.2,220.1 254,219 C253.8,217.9 253.7,214.5 254,213.5 Z" fill="#fff" stroke="#8c8c9c" stroke-width="0.9"/>
<path d="M303.5,181.5 C303.8,180.8 305.3,180.2 306,180.5 C306.7,180.8 307.5,182.2 307.5,183 C307.5,183.8 306.6,185.2 306,185.5 C305.4,185.8 304.4,185.7 304,185 C303.6,184.3 303.2,182.2 303.5,181.5 Z" fill="#fff" stroke="#8c8c9c" stroke-width="0.9"/>
<path d="M235,128 L240,131 L246,130 L249,127 L251,129 L250,132 L254,134 L252,136 L248,135 L245,138" fill="none" stroke="#5e6a9a" stroke-width="1"/>
<path d="M538,197 L542,193 L548,191 L556,190 L563,192 L570,193 L578,194 L586,196 L594,195 L600,194" fill="none" stroke="#6a2a62" stroke-width="1" stroke-linejoin="round"/>
<path d="M546,199 L552,203 L556,208 L553,214 L549,218 L552,222 L558,224 L564,227 L567,232 L566,238 L570,244 L566,250 L560,254 L556,258 L550,262 L546,266 L540,263 L545,258 L552,254 L558,249 L562,244 L560,236" fill="none" stroke="#6a2a62" stroke-width="1" stroke-linejoin="round"/>
<ellipse cx="397.7" cy="291.6" rx="5" ry="5.5" fill="#6b4f7a" stroke="#4a1a3a" stroke-width="1"/>
<path d="M389,279 L392,285 L395,281 L398,286 L401,279 L403,284" fill="none" stroke="#7a2a5a" stroke-width="1.1"/>
<ellipse cx="416" cy="303" rx="3.5" ry="2" fill="#e8e820"/>
</g>
<path d="M48.5,88.5 L52,83.3 L60.7,81.6 L69.3,78 L74.5,73 L81.5,71.2 L93.6,70.3 L104,68.6 L110.4,70.8 L126,72.5 L134.7,72.5 L141.6,70.8 L143,65 L144.2,61.2 L145.6,62.2 L145,72.5 L148.5,79.5 L153.7,86.4 L162.4,88 L172.8,89 L179.7,90 L172.8,90.9 L162.4,91.8 L152,93.3 L141.6,93.5 L134.7,95 L130.3,98.5 L134.7,100.5 L141.6,103.7 L134.7,105.5 L120.8,105.5 L110.4,104.6 L97,105.9 L93.6,102.4 L96.2,99 L92,95.5 L85,97.2 L81.5,105.9 L72.8,105.9 L69.3,102.4 L62.4,97.2 L52,98 L41.6,100.7 L34.7,104 L26,114.5 L23.5,113.5 L27,107 L35,100 L43,94 Z" fill="#fff" stroke="#1e1e58" stroke-width="1.4" stroke-linejoin="round"/>
<path d="M29.7,27.3 L35,23 L39.5,19.5 L43.4,16.9 L50,14.5 L55,13 L59,11.7 L64.2,9.7 L72,10.4 L77.1,14.3 L82.3,16.9 L92.7,17.5 L103.1,16.9 L104.4,26 L105.7,37.7 L108.3,44.2 L120,50 L132,56 L141,60 L143.5,62 L146,61.3 L152,62 L160.7,65.6 L172.8,67.3 L183,67.3 L191.9,66.5 L200.5,67.3 L211,69 L217.9,70.8 L228,71 L236,68 L242,60 L250,56 L260,51 L270,46 L280,42 L290,38 L300,35 L306,32 L312,29 L322,26 L330,27 L340,27 L355,29 L365,29 L375,29 L385,25 L390,24 L393,30 L395,36 L402,41 L411.3,44.7 L420.5,42.9 L429.7,41 L433.4,46.6 L433.4,52 L439,57.6 L444.4,65 L453.6,65 L461,63 L466.5,66.8 L473.9,72.3 L483,74.2 L490.4,77 L497.8,74.2 L505,77 L517,77 L530,80 L540,79 L550,76 L560,75 L572,75 L585,80 L597,77 L607,75 L615,76 L627,67 L640,62.3 L647.6,57.7 L655.2,50.2 L656.7,47.1 L662.7,50.2 L670.3,49.4 L674.8,48.6 L682.4,50.2 L690,50.2 L696,47.1 L699,44.1 L702.1,41.8 L706.7,42.6 L709.7,47.1 L715.8,51.7 L721.8,56.2 L726.4,60 L731,61.5 L734,63.8 L735.5,69.8 L740,71.4 L746,77.4 L749,83.5 L747.6,91 L744.5,97.1 L746,101.7 L747,112 L750,118 L759,121 L769,120 L778,122 L785,125 L791,128 L800,134 L799,140 L794,137 L788,134 L785,139 L782,146 L780,150 L774,153 L769,155 L771,161 L774,164 L776,171.6 L778.2,182.5 L778.2,193.3 L784.7,199.8 L786.9,210.6 L789,219.3 L787,225 L786.4,229 L791,235 L797,238 L803,239.7 L803,250.3 L804.5,256.4 L809,259.4 L812,264 L812,268.5 L806,270 L800,271.5 L797,273 L794,277.6 L791,279 L789.4,276 L791,271.5 L788,268.5 L781.8,264 L775.8,265.5 L769.7,268.5 L760.6,268.5 L750,265.5 L744,264 L737.9,264 L730.3,265.5 L727.3,268.5 L722.7,265.5 L718,267 L715,270 L712,277.6 L709,280.6 L706,276 L703,270 L700,268.5 L696.3,271.5 L686.8,276 L680.5,279.4 L667.8,282.6 L655,282.6 L645.6,282.6 L636,285.7 L623.4,290.5 L615,296 L611,300 L605,302.2 L597.9,304.1 L592,306 L586.2,309 L579.4,309 L574.5,310.9 L567.7,310.9 L560.8,311.9 L555,309.5 L550,307 L547.5,305 L542.5,302.5 L535,302.5 L527.5,300 L520,301 L512.5,304 L505,307.5 L497.5,309 L485,310 L480,311 L475,310 L470,306 L463,303 L456,302.5 L452.7,306 L451,312.9 L451,319.8 L452.7,325 L457.9,330 L459.6,333.6 L452.7,337 L445.7,340.5 L439,347.5 L435,352.7 L432,356 L430,352.7 L425,351 L421.5,352.7 L419.8,351 L422.4,345.7 L423,339 L421.5,332 L423,325 L426.7,321.5 L432,318 L435,314.6 L437,309.4 L435,304 L432,300 L428.4,299 L421.5,300.8 L414.6,304 L411,307.7 L408.5,310 L408.5,314 L406,315.5 L402.5,316 L397,314 L390,310 L381,307 L372.7,305 L364.4,307 L358,313 L352,317.3 L347.8,321.5 L343.6,327.7 L341.6,331.8 L335.4,334 L327,336 L318.8,338 L310.5,338 L302,340 L294,342 L285.6,341 L277.3,336 L269,329.7 L260.7,321.5 L254.5,315 L248.3,311 L240,307 L229.9,302.8 L221,300.6 L212.5,298.4 L204,297.4 L198.5,297.4 L195,300.6 L193,309.3 L191,315.8 L188.7,322.3 L182,324.4 L173.6,326.6 L165,328.7 L158.4,331 L149.8,331 L141,326.6 L136.8,322.3 L132.5,318 L128,311.4 L126,305 L120.3,305 L115.8,303.6 L112.7,300.6 L108,297.6 L103.6,296 L99,293 L93,294.5 L90,299 L85.5,305 L81,306 L82.4,302 L84,297.6 L77.9,296.8 L67.3,298.3 L58.2,299 L56.7,296.8 L62.7,294.5 L70.3,293 L74.8,291.5 L82.4,290 L90,288.5 L94.5,285.5 L91.5,283.2 L77.9,283.2 L62.7,282.4 L52,282.4 L50.6,280 L55,277 L61,277.9 L65.8,274.8 L64,270.3 L59.7,262.7 L53.6,256.7 L50.6,252 L47.6,246 L52.3,237.3 L54.8,232.3 L49.8,227.3 L39.8,222.3 L32.4,217.4 L25,212.4 L15,212.4 L12.4,207.4 L17,200 L20,195 L17.4,192.5 L22.4,190 L25,196 L27.4,203 L34.8,208 L44.8,208 L50,206 L47,202 L41,197 L37.3,187.5 L42,186 L47,183 L50,180 L47,178.5 L42.4,174 L44,169 L41,163 L36,159 L33,157 L38,154 L42.4,151 L45.5,148 L44,145 L36,145 L27,143.6 L18,143.6 L12,142 L13.6,136 L15,130 L16,120 L21,116 L22,113 L20.8,111 L22.5,105.9 L24.3,100.7 L31.2,97.2 L41.6,92 L48.5,88.5 L45,85 L34.7,83.3 L22.5,83.3 L17.3,81.6 L20.8,74.7 L26,66 L29,57 L30.4,52 L33,48 L36.9,42.9 L38.2,37.7 L36.9,33.8 L35.6,29.9 Z" fill="none" stroke="#1e1e58" stroke-width="1.5" stroke-linejoin="round"/>
<text class="l" x="40" y="24.5" textLength="55" lengthAdjust="spacingAndGlyphs">KIRKLARELİ</text>
<text class="l" x="45" y="39.5" textLength="32" lengthAdjust="spacingAndGlyphs">EDİRNE</text>
<text class="l" x="54" y="64" textLength="43" lengthAdjust="spacingAndGlyphs">TEKİRDAĞ</text>
<text class="l" x="28.6" y="121" textLength="56" lengthAdjust="spacingAndGlyphs">ÇANAKKALE</text>
<text class="l" x="62.5" y="139" textLength="47.5" lengthAdjust="spacingAndGlyphs">BALIKESİR</text>
<text class="l" x="44" y="192.5" textLength="31" lengthAdjust="spacingAndGlyphs">MANİSA</text>
<text class="l" x="50" y="211" textLength="35" lengthAdjust="spacingAndGlyphs">İZMİR</text>
<text class="l" x="64.7" y="235" textLength="27.3" lengthAdjust="spacingAndGlyphs">AYDIN</text>
<text class="l" x="81" y="270.3" textLength="31.7" lengthAdjust="spacingAndGlyphs">MUĞLA</text>
<text class="l" x="113.8" y="243.8" textLength="36.2" lengthAdjust="spacingAndGlyphs">DENİZLİ</text>
<text class="l" x="137.4" y="195.2" textLength="21.6" lengthAdjust="spacingAndGlyphs">UŞAK</text>
<text class="l" x="148" y="166" textLength="43.6" lengthAdjust="spacingAndGlyphs">KÜTAHYA</text>
<text class="l" x="183" y="194" textLength="27" lengthAdjust="spacingAndGlyphs">AFYON</text>
<text class="l" x="164" y="247.6" textLength="36.6" lengthAdjust="spacingAndGlyphs">BURDUR</text>
<text class="l" x="199" y="255" textLength="38" lengthAdjust="spacingAndGlyphs">ISPARTA</text>
<text class="l" x="175.8" y="293" textLength="43.2" lengthAdjust="spacingAndGlyphs">ANTALYA</text>
<text class="l" x="263.4" y="242.4" textLength="31.1" lengthAdjust="spacingAndGlyphs">KONYA</text>
<text class="l" x="285.8" y="279.8" textLength="46.1" lengthAdjust="spacingAndGlyphs">KARAMAN</text>
<text class="l" x="353" y="299.7" textLength="34.6" lengthAdjust="spacingAndGlyphs">MERSİN</text>
<text class="l" x="392" y="303" textLength="28" lengthAdjust="spacingAndGlyphs">ADANA</text>
<text class="l" x="413.6" y="287.8" textLength="45.4" lengthAdjust="spacingAndGlyphs">OSMANİYE</text>
<text class="l" x="461" y="287.8" textLength="49" lengthAdjust="spacingAndGlyphs">GAZİANTEP</text>
<text class="l" x="464.5" y="305" textLength="18.5" lengthAdjust="spacingAndGlyphs">KİLİS</text>
<text class="l" x="412.9" y="333.6" textLength="41.5" lengthAdjust="spacingAndGlyphs">ANTAKYA</text>
<text class="l" x="424.5" y="260.7" textLength="85.5" lengthAdjust="spacingAndGlyphs">KAHRAMANMARAŞ</text>
<text class="l" x="503.3" y="251.4" textLength="47.7" lengthAdjust="spacingAndGlyphs">ADIYAMAN</text>
<text class="l" x="525" y="285" textLength="49.8" lengthAdjust="spacingAndGlyphs">ŞANLIURFA</text>
<text class="l" x="581.6" y="238.4" textLength="58.4" lengthAdjust="spacingAndGlyphs">DİYARBAKIR</text>
<text class="l" x="618.7" y="271.5" textLength="34.8" lengthAdjust="spacingAndGlyphs">MARDİN</text>
<text class="l" x="635.5" y="240.6" textLength="36.8" lengthAdjust="spacingAndGlyphs">BATMAN</text>
<text class="l" x="674.5" y="234" textLength="21.5" lengthAdjust="spacingAndGlyphs">SİİRT</text>
<text class="l" x="696" y="250.4" textLength="30.4" lengthAdjust="spacingAndGlyphs">ŞIRNAK</text>
<text class="l" x="744" y="248.8" textLength="40.8" lengthAdjust="spacingAndGlyphs">HAKKARİ</text>
<text class="l" x="676.6" y="209.2" textLength="26" lengthAdjust="spacingAndGlyphs">BİTLİS</text>
<text class="l" x="654.8" y="193.6" textLength="19.5" lengthAdjust="spacingAndGlyphs">MUŞ</text>
<text class="l" x="602.8" y="187" textLength="32.5" lengthAdjust="spacingAndGlyphs">BİNGÖL</text>
<text class="l" x="557.3" y="175.2" textLength="39" lengthAdjust="spacingAndGlyphs">TUNCELİ</text>
<text class="l" x="547.8" y="201.4" textLength="33.8" lengthAdjust="spacingAndGlyphs">ELAZIĞ</text>
<text class="l" x="506.6" y="217.6" textLength="43.4" lengthAdjust="spacingAndGlyphs">MALATYA</text>
<text class="l" x="554.5" y="142.5" textLength="45.5" lengthAdjust="spacingAndGlyphs">ERZİNCAN</text>
<text class="l" x="629" y="131.5" textLength="44.4" lengthAdjust="spacingAndGlyphs">ERZURUM</text>
<text class="l" x="584.8" y="113.3" textLength="41.2" lengthAdjust="spacingAndGlyphs">BAYBURT</text>
<text class="l" x="543.6" y="105.7" textLength="56.4" lengthAdjust="spacingAndGlyphs">GÜMÜŞHANE</text>
<text class="l" x="560" y="75" textLength="42.5" lengthAdjust="spacingAndGlyphs">TRABZON</text>
<text class="l" x="605" y="73" textLength="18" lengthAdjust="spacingAndGlyphs">RİZE</text>
<text class="l" x="652.5" y="61.2" textLength="32.5" lengthAdjust="spacingAndGlyphs">ARTVİN</text>
<text class="l" x="685" y="61.2" textLength="40" lengthAdjust="spacingAndGlyphs">ARDAHAN</text>
<text class="l" x="711" y="88.8" textLength="24" lengthAdjust="spacingAndGlyphs">KARS</text>
<text class="l" x="759" y="135.6" textLength="26.4" lengthAdjust="spacingAndGlyphs">IĞDIR</text>
<text class="l" x="492.5" y="77.5" textLength="25" lengthAdjust="spacingAndGlyphs">ORDU</text>
<text class="l" x="512.5" y="81.2" textLength="35" lengthAdjust="spacingAndGlyphs">GİRESUN</text>
<text class="l" x="425" y="64" textLength="36" lengthAdjust="spacingAndGlyphs">SAMSUN</text>
<text class="l" x="375" y="22.5" textLength="26" lengthAdjust="spacingAndGlyphs">SİNOP</text>
<text class="l" x="410" y="96.8" textLength="30" lengthAdjust="spacingAndGlyphs">AMASYA</text>
<text class="l" x="436" y="115.2" textLength="31.5" lengthAdjust="spacingAndGlyphs">TOKAT</text>
<text class="l" x="369" y="100" textLength="26" lengthAdjust="spacingAndGlyphs">ÇORUM</text>
<text class="l" x="360.3" y="139" textLength="35.7" lengthAdjust="spacingAndGlyphs">YOZGAT</text>
<text class="l" x="457" y="145" textLength="26" lengthAdjust="spacingAndGlyphs">SİVAS</text>
<text class="l" x="299.9" y="136" textLength="49.3" lengthAdjust="spacingAndGlyphs">KIRIKKALE</text>
<text class="l" x="275.3" y="129.3" textLength="43.3" lengthAdjust="spacingAndGlyphs">ANKARA</text>
<text class="l" x="310" y="97.9" textLength="40" lengthAdjust="spacingAndGlyphs">ÇANKIRI</text>
<text class="l" x="327.5" y="55" textLength="35" lengthAdjust="spacingAndGlyphs">KASTAMONU</text>
<text class="l" x="234" y="88.2" textLength="24" lengthAdjust="spacingAndGlyphs">BOLU</text>
<text class="l" x="261" y="42.5" textLength="26.5" lengthAdjust="spacingAndGlyphs">BARTIN</text>
<text class="l" x="228.8" y="52.5" textLength="41.2" lengthAdjust="spacingAndGlyphs">ZONGULDAK</text>
<text class="l" x="172" y="138.7" textLength="50" lengthAdjust="spacingAndGlyphs">ESKİŞEHİR</text>
<text class="l" x="325" y="175.6" textLength="48" lengthAdjust="spacingAndGlyphs">KIRŞEHİR</text>
<text class="l" x="351.5" y="203" textLength="43.5" lengthAdjust="spacingAndGlyphs">NEVŞEHİR</text>
<text class="l" x="388.5" y="198.7" textLength="36.8" lengthAdjust="spacingAndGlyphs">KAYSERİ</text>
<text class="l" x="326.4" y="215.8" textLength="41.6" lengthAdjust="spacingAndGlyphs">AKSARAY</text>
<text class="l" x="358.4" y="239" textLength="28.2" lengthAdjust="spacingAndGlyphs">NİĞDE</text>
<circle cx="86" cy="144" r="1.9" fill="#140804"/>
<circle cx="65" cy="196" r="1.9" fill="#140804"/>
<circle cx="53.5" cy="208" r="1.9" fill="#140804"/>
<circle cx="78.4" cy="238.5" r="1.9" fill="#140804"/>
<circle cx="97.6" cy="275" r="1.9" fill="#140804"/>
<circle cx="133.8" cy="247.5" r="1.9" fill="#140804"/>
<circle cx="147.6" cy="200.6" r="1.9" fill="#140804"/>
<circle cx="167.8" cy="169.2" r="1.9" fill="#140804"/>
<circle cx="197.4" cy="197.4" r="1.9" fill="#140804"/>
<circle cx="183" cy="251.4" r="1.9" fill="#140804"/>
<circle cx="195.3" cy="251.4" r="1.9" fill="#140804"/>
<circle cx="198.5" cy="296.7" r="1.9" fill="#140804"/>
<circle cx="279" cy="247" r="1.9" fill="#140804"/>
<circle cx="310.7" cy="284.3" r="1.9" fill="#140804"/>
<circle cx="372" cy="305.6" r="1.9" fill="#140804"/>
<circle cx="437.4" cy="290.4" r="1.9" fill="#140804"/>
<circle cx="488" cy="292" r="1.9" fill="#140804"/>
<circle cx="476.4" cy="310.5" r="1.9" fill="#140804"/>
<circle cx="434.5" cy="338.5" r="1.9" fill="#140804"/>
<circle cx="467.8" cy="264.4" r="1.9" fill="#140804"/>
<circle cx="528.2" cy="254.6" r="1.9" fill="#140804"/>
<circle cx="549.9" cy="288.9" r="1.9" fill="#140804"/>
<circle cx="611.7" cy="243.9" r="1.9" fill="#140804"/>
<circle cx="636" cy="275.3" r="1.9" fill="#140804"/>
<circle cx="685.3" cy="238.5" r="1.9" fill="#140804"/>
<circle cx="712.3" cy="255.4" r="1.9" fill="#140804"/>
<circle cx="766" cy="253" r="1.9" fill="#140804"/>
<circle cx="691.3" cy="214.2" r="1.9" fill="#140804"/>
<circle cx="664.5" cy="198" r="1.9" fill="#140804"/>
<circle cx="619.7" cy="190.4" r="1.9" fill="#140804"/>
<circle cx="576.4" cy="179.5" r="1.9" fill="#140804"/>
<circle cx="527.8" cy="221.5" r="1.9" fill="#140804"/>
<circle cx="577.6" cy="146.9" r="1.9" fill="#140804"/>
<circle cx="652.4" cy="135.4" r="1.9" fill="#140804"/>
<circle cx="604.3" cy="117.2" r="1.9" fill="#140804"/>
<circle cx="572.2" cy="109.4" r="1.9" fill="#140804"/>
<circle cx="582.5" cy="80" r="1.9" fill="#140804"/>
<circle cx="668.8" cy="65.5" r="1.9" fill="#140804"/>
<circle cx="705" cy="65.5" r="1.9" fill="#140804"/>
<circle cx="723.8" cy="93" r="1.9" fill="#140804"/>
<circle cx="767" cy="126" r="1.9" fill="#140804"/>
<circle cx="505.8" cy="82" r="1.9" fill="#140804"/>
<circle cx="528.8" cy="85.8" r="1.9" fill="#140804"/>
<circle cx="443.5" cy="67.7" r="1.9" fill="#140804"/>
<circle cx="388.8" cy="25" r="1.9" fill="#140804"/>
<circle cx="423" cy="100.7" r="1.9" fill="#140804"/>
<circle cx="452.3" cy="119" r="1.9" fill="#140804"/>
<circle cx="385.9" cy="104.4" r="1.9" fill="#140804"/>
<circle cx="378.7" cy="143.4" r="1.9" fill="#140804"/>
<circle cx="471.5" cy="150" r="1.9" fill="#140804"/>
<circle cx="324.5" cy="140.5" r="1.9" fill="#140804"/>
<circle cx="329.4" cy="102.2" r="1.9" fill="#140804"/>
<circle cx="246" cy="92.5" r="1.9" fill="#140804"/>
<circle cx="352" cy="180.5" r="1.9" fill="#140804"/>
<circle cx="346.5" cy="219" r="1.9" fill="#140804"/>
<circle cx="374" cy="209" r="1.9" fill="#140804"/>
<circle cx="378" cy="243" r="1.9" fill="#140804"/>
<circle cx="42.7" cy="30.5" r="1.9" fill="#140804"/>
<circle cx="410" cy="206" r="1.9" fill="#140804"/>
<circle cx="566" cy="203" r="1.9" fill="#140804"/>
<circle cx="5.7" cy="4" r="1.6" fill="#111"/><circle cx="5.7" cy="47.5" r="1.2" fill="#111"/>
<path d="M521,349 C524,354 531,355 533.5,351 C535,348 531,345.5 527.5,349" fill="none" stroke="#777" stroke-width="0.9"/>
<circle cx="460.8" cy="333" r="1.1" fill="#222"/><ellipse cx="472.5" cy="356" rx="2.3" ry="1.3" fill="none" stroke="#444" stroke-width="0.8"/>
<text class="s" x="470" y="350" font-weight="bold" font-size="15" fill="#111" textLength="352" lengthAdjust="spacingAndGlyphs">SPI(Standardized Precipitation Index)Metodu ile</text>
<text class="s" x="562.5" y="373.8" font-weight="bold" font-size="14.2" fill="#111" textLength="217" lengthAdjust="spacingAndGlyphs">Meteorolojik Kuraklık Haritası</text>
<text class="s" x="562.5" y="397.2" font-weight="bold" font-size="14.6" fill="#111" textLength="263" lengthAdjust="spacingAndGlyphs">3 Aylık (Haziran 2025-Ağustos 2025</text>
<text class="s" x="562.5" y="417.6" font-size="11" fill="#333" textLength="145" lengthAdjust="spacingAndGlyphs">Hazırlanış Tarihi: Eylül 2025</text>
<ellipse cx="623.3" cy="310.5" rx="12.2" ry="4.7" fill="none" stroke="#111" stroke-width="1.7"/>
<path d="M628.5,308.2 A6.5,2.9 0 1 0 628.5,312.8" fill="none" stroke="#111" stroke-width="1.5"/>
<text class="s" x="646" y="315.9" font-weight="bold" font-size="15" fill="#111" textLength="79" lengthAdjust="spacingAndGlyphs">MGM</text>
<rect x="270" y="368.5" width="113" height="46" fill="#fafafa"/>
<path d="M304.3,388.6 L312,389.1 L323,390.8 L331.7,390.8 L338.3,388 L346,385.9 L351.5,382.6 L355.9,379.3 L364.6,375.4 L371.2,372.7 L371.8,374.3 L366.8,378.2 L360.3,381.5 L352.6,387 L346,391.3 L343.8,395.7 L342.7,399 L341.6,402.3 L337.2,404 L331.7,403.4 L327.3,402.9 L324,399 L317.4,400.1 L309.8,398.5 L304.3,397.9 L303.2,393.5 Z" fill="#e8e8e8" stroke="#a0a0a0" stroke-width="0.9"/>
<path d="M285.6,401.8 L290.7,397.9 L299.3,397.2 L304.3,397.9 M341.6,402.3 L344.9,403.4 L349.3,405.6 L350.4,409.5 L344.9,408.9 L337.2,408.9 L333.9,412.2" fill="none" stroke="#a8a8a8" stroke-width="0.9"/>
<text class="s" x="124.3" y="408.5" font-size="9.5" fill="#222" textLength="198.5" lengthAdjust="spacingAndGlyphs">* Bu veriler kalite kontrolden geçmemiştir.</text>
<circle cx="5.5" cy="437" r="1.6" fill="#111"/>
<text class="s" x="55.6" y="438.8" font-size="9" fill="#1a1a1a" text-anchor="middle" textLength="71.2" lengthAdjust="spacingAndGlyphs">EXCEPTIONALLY</text>
<text class="s" x="55.6" y="447.5" font-size="9" fill="#1a1a1a" text-anchor="middle" textLength="18.7" lengthAdjust="spacingAndGlyphs">DRY</text>
<rect x="35" y="453.5" width="47.5" height="12" fill="#000000" stroke="#000" stroke-width="1"/>
<text class="s" x="129" y="438.8" font-size="9" fill="#1a1a1a" text-anchor="middle" textLength="53" lengthAdjust="spacingAndGlyphs">EXTREMELY</text>
<text class="s" x="129" y="447.5" font-size="9" fill="#1a1a1a" text-anchor="middle" textLength="18.7" lengthAdjust="spacingAndGlyphs">DRY</text>
<rect x="106" y="453.5" width="47.5" height="12" fill="#6e3214" stroke="#3a1a08" stroke-width="1"/>
<text class="s" x="199.4" y="438.8" font-size="9" fill="#1a1a1a" text-anchor="middle" textLength="46.3" lengthAdjust="spacingAndGlyphs">SEVERELY</text>
<text class="s" x="199.4" y="447.5" font-size="9" fill="#1a1a1a" text-anchor="middle" textLength="18.7" lengthAdjust="spacingAndGlyphs">DRY</text>
<rect x="177.5" y="453.5" width="47.5" height="12" fill="#d23c10" stroke="#8a2a08" stroke-width="1"/>
<text class="s" x="270" y="438.8" font-size="9" fill="#1a1a1a" text-anchor="middle" textLength="60" lengthAdjust="spacingAndGlyphs">MODERATELY</text>
<text class="s" x="270" y="447.5" font-size="9" fill="#1a1a1a" text-anchor="middle" textLength="18.7" lengthAdjust="spacingAndGlyphs">DRY</text>
<rect x="248.5" y="453.5" width="47.5" height="12" fill="#f89c6a" stroke="#8a4a2a" stroke-width="1"/>
<text class="s" x="342.5" y="438.8" font-size="9" fill="#1a1a1a" text-anchor="middle" textLength="59" lengthAdjust="spacingAndGlyphs">ABNORMALLY</text>
<text class="s" x="342.5" y="447.5" font-size="9" fill="#1a1a1a" text-anchor="middle" textLength="18.7" lengthAdjust="spacingAndGlyphs">DRY</text>
<rect x="320" y="453.5" width="47.5" height="12" fill="#ffff00" stroke="#6a6a00" stroke-width="1"/>
<text class="s" x="413.8" y="438.8" font-size="9" fill="#1a1a1a" text-anchor="middle" textLength="25" lengthAdjust="spacingAndGlyphs">NEAR</text>
<text class="s" x="413.8" y="447.5" font-size="9" fill="#1a1a1a" text-anchor="middle" textLength="34.5" lengthAdjust="spacingAndGlyphs">NORMAL</text>
<rect x="391.5" y="453.5" width="47.5" height="12" fill="#ffffff" stroke="#333" stroke-width="1"/>
<text class="s" x="486.2" y="438.8" font-size="9" fill="#1a1a1a" text-anchor="middle" textLength="60" lengthAdjust="spacingAndGlyphs">ABNORMALLY</text>
<text class="s" x="486.2" y="447.5" font-size="9" fill="#1a1a1a" text-anchor="middle" textLength="27.5" lengthAdjust="spacingAndGlyphs">MOIST</text>
<rect x="463" y="453.5" width="47.5" height="12" fill="#a6f01e" stroke="#4a7a10" stroke-width="1"/>
<text class="s" x="556.8" y="438.8" font-size="9" fill="#1a1a1a" text-anchor="middle" textLength="60" lengthAdjust="spacingAndGlyphs">MODERATELY</text>
<text class="s" x="556.8" y="447.5" font-size="9" fill="#1a1a1a" text-anchor="middle" textLength="27.5" lengthAdjust="spacingAndGlyphs">MOIST</text>
<rect x="534.5" y="453.5" width="47.5" height="12" fill="#4cc46c" stroke="#1a6a3a" stroke-width="1"/>
<text class="s" x="628.8" y="438.8" font-size="9" fill="#1a1a1a" text-anchor="middle" textLength="22.5" lengthAdjust="spacingAndGlyphs">VERY</text>
<text class="s" x="628.8" y="447.5" font-size="9" fill="#1a1a1a" text-anchor="middle" textLength="27.5" lengthAdjust="spacingAndGlyphs">MOIST</text>
<rect x="606" y="453.5" width="47.5" height="12" fill="#3a9a6a" stroke="#1a5a3a" stroke-width="1"/>
<text class="s" x="698.3" y="438.8" font-size="9" fill="#1a1a1a" text-anchor="middle" textLength="52.5" lengthAdjust="spacingAndGlyphs">EXTREMELY</text>
<text class="s" x="698.3" y="447.5" font-size="9" fill="#1a1a1a" text-anchor="middle" textLength="27.5" lengthAdjust="spacingAndGlyphs">MOIST</text>
<rect x="677.5" y="453.5" width="47.5" height="12" fill="#0000f0" stroke="#00008a" stroke-width="1"/>
<text class="s" x="772.4" y="438.8" font-size="9" fill="#1a1a1a" text-anchor="middle" textLength="71.2" lengthAdjust="spacingAndGlyphs">EXCEPTIONALLY</text>
<text class="s" x="772.4" y="447.5" font-size="9" fill="#1a1a1a" text-anchor="middle" textLength="27.5" lengthAdjust="spacingAndGlyphs">MOIST</text>
<rect x="750" y="453.5" width="47.5" height="12" fill="#9a18f0" stroke="#5a0a8a" stroke-width="1"/>
</svg></body></html>
